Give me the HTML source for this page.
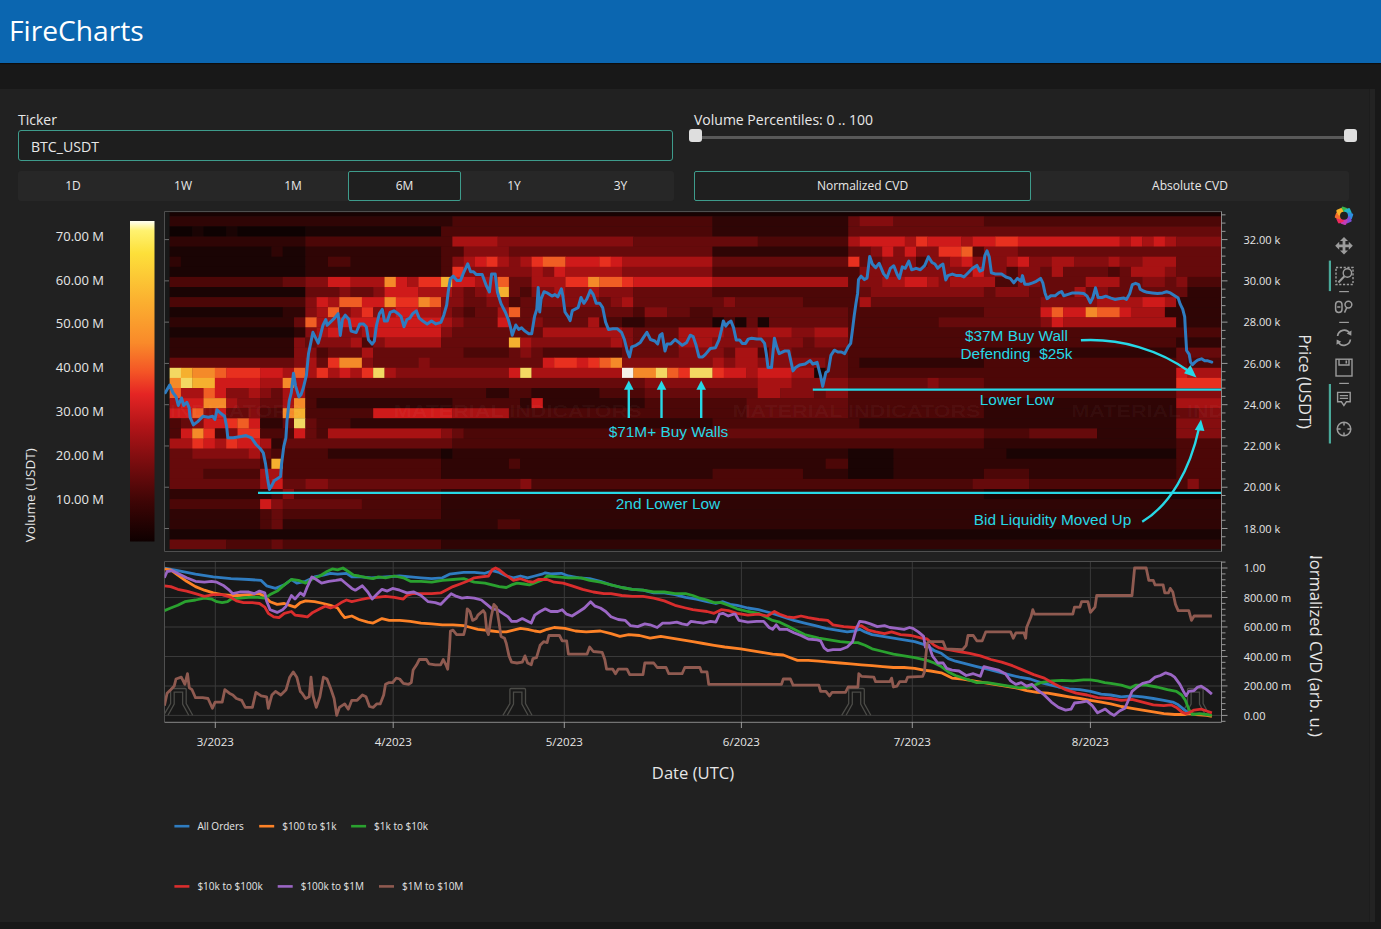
<!DOCTYPE html>
<html><head><meta charset="utf-8"><title>FireCharts</title>
<style>
*{box-sizing:border-box;margin:0;padding:0}
html,body{width:1381px;height:929px;overflow:hidden;background:#181818;font-family:"Open Sans","Liberation Sans",sans-serif;color:#e8e8e8}
#hdr{position:absolute;left:0;top:0;width:1381px;height:63px;background:#0b66b0;box-shadow:0 1px 1px rgba(0,0,0,0.45)}
#hdr span{position:absolute;left:9px;top:11.4px;font-size:28.2px;line-height:38px;color:#fff}
#panel{position:absolute;left:0;top:89px;width:1375px;height:833px;background:#212121}
#edge{position:absolute;left:1369px;top:89px;width:6px;height:833px;background:#232323;border-left:1px solid #1d1d1d}
.lbl{position:absolute;font-size:14px;line-height:19px;color:#e8e8e8}
#tick{position:absolute;left:18px;top:130px;width:655px;height:31px;border:1px solid #3e9c8c;border-radius:3px;background:#1e1e1e}
#tick span{position:absolute;left:12px;top:5.5px;font-size:14.1px;line-height:19px;color:#e8e8e8}
.row{position:absolute;background:#272727;border-radius:3px}
.btn{position:absolute;top:0;height:30px;font-size:12px;color:#e8e8e8;text-align:center;line-height:30px}
.sel{border:1px solid #3e9c8c;background:#1f1f1f;border-radius:2px;line-height:28px}
#track{position:absolute;left:694px;top:135.5px;width:656px;height:3.5px;background:#595959;border-radius:2px}
.hd{position:absolute;top:129px;width:13px;height:13px;background:#dedede;border-radius:3px}
svg{position:absolute;left:0;top:0}
svg text{font-family:"Open Sans","Liberation Sans",sans-serif;fill:#e6e6e6}
.tk{font-size:11px}
.cbt{font-size:13px;text-anchor:end}
.xt{font-size:11.5px;text-anchor:middle}
.ttl{font-size:16.6px}
.lg{font-size:10px}
.an text{font-family:"Liberation Sans",Arial,sans-serif;font-size:15.4px;fill:#27d8e6;text-anchor:middle}
</style></head><body>
<div id="hdr"><span>FireCharts</span></div>
<div id="panel"></div><div id="edge"></div>
<div class="lbl" style="left:18px;top:110px">Ticker</div>
<div id="tick"><span>BTC_USDT</span></div>
<div class="row" style="left:18px;top:171px;width:656px;height:30px">
<div class="btn" style="left:0;width:110px">1D</div>
<div class="btn" style="left:110px;width:110px">1W</div>
<div class="btn" style="left:220px;width:110px">1M</div>
<div class="btn sel" style="left:330px;width:113px">6M</div>
<div class="btn" style="left:443px;width:106px">1Y</div>
<div class="btn" style="left:549px;width:107px">3Y</div>
</div>
<div class="lbl" style="left:694px;top:110px">Volume Percentiles: 0 .. 100</div>
<div id="track"></div>
<div class="hd" style="left:689px"></div>
<div class="hd" style="left:1344px"></div>
<div class="row" style="left:694px;top:171px;width:655px;height:30px">
<div class="btn sel" style="left:0;width:337px">Normalized CVD</div>
<div class="btn" style="left:337px;width:318px">Absolute CVD</div>
</div>
<svg width="1381" height="929" viewBox="0 0 1381 929">
<defs><clipPath id="hclip"><rect x="164.5" y="211.5" width="1057" height="340"/></clipPath><clipPath id="cclip"><rect x="164.5" y="561.5" width="1057" height="161"/></clipPath><clipPath id="tclip"><rect x="1290" y="556" width="50" height="200"/></clipPath><linearGradient id="cb" x1="0" y1="0" x2="0" y2="1"><stop offset="0" stop-color="#fffff4"/><stop offset="0.03" stop-color="#fff270"/><stop offset="0.10" stop-color="#fde03a"/><stop offset="0.25" stop-color="#fbb030"/><stop offset="0.38" stop-color="#f98a2a"/><stop offset="0.47" stop-color="#f45526"/><stop offset="0.54" stop-color="#e52524"/><stop offset="0.64" stop-color="#b21418"/><stop offset="0.76" stop-color="#760c0e"/><stop offset="0.88" stop-color="#3c0505"/><stop offset="1" stop-color="#0e0000"/></linearGradient></defs>
<rect x="164.5" y="211.5" width="1057" height="340" fill="#181818"/>
<g clip-path="url(#hclip)">
<rect x="169.6" y="212.4" width="1051.7" height="3.9" fill="#180202"/>
<rect x="169.6" y="216.3" width="283.05" height="10.4" fill="#2f0505"/>
<rect x="452.35" y="216.3" width="260.43" height="10.4" fill="#4c0707"/>
<rect x="712.48" y="216.3" width="136.02" height="10.4" fill="#2f0505"/>
<rect x="848.2" y="216.3" width="11.61" height="10.4" fill="#660a0b"/>
<rect x="859.51" y="216.3" width="34.23" height="10.4" fill="#850d0f"/>
<rect x="893.44" y="216.3" width="90.78" height="10.4" fill="#660a0b"/>
<rect x="983.92" y="216.3" width="237.68" height="10.4" fill="#4c0707"/>
<rect x="169.6" y="226.4" width="22.92" height="10.4" fill="#0e0202"/>
<rect x="192.22" y="226.4" width="11.61" height="10.4" fill="#1a0404"/>
<rect x="203.53" y="226.4" width="22.92" height="10.4" fill="#0e0202"/>
<rect x="226.15" y="226.4" width="11.61" height="10.4" fill="#1a0404"/>
<rect x="237.46" y="226.4" width="68.16" height="10.4" fill="#0e0202"/>
<rect x="305.32" y="226.4" width="136.02" height="10.4" fill="#1a0404"/>
<rect x="441.04" y="226.4" width="271.74" height="10.4" fill="#4c0707"/>
<rect x="712.48" y="226.4" width="136.02" height="10.4" fill="#2f0505"/>
<rect x="848.2" y="226.4" width="373.4" height="10.4" fill="#660a0b"/>
<rect x="169.6" y="236.5" width="136.02" height="10.4" fill="#2f0505"/>
<rect x="305.32" y="236.5" width="147.33" height="10.4" fill="#4c0707"/>
<rect x="452.35" y="236.5" width="45.54" height="10.4" fill="#a81213"/>
<rect x="497.59" y="236.5" width="136.02" height="10.4" fill="#850d0f"/>
<rect x="633.31" y="236.5" width="124.71" height="10.4" fill="#660a0b"/>
<rect x="757.72" y="236.5" width="90.78" height="10.4" fill="#4c0707"/>
<rect x="848.2" y="236.5" width="11.61" height="10.4" fill="#a81213"/>
<rect x="859.51" y="236.5" width="45.54" height="10.4" fill="#cf1a1a"/>
<rect x="904.75" y="236.5" width="11.61" height="10.4" fill="#a81213"/>
<rect x="916.06" y="236.5" width="11.61" height="10.4" fill="#e8301f"/>
<rect x="927.37" y="236.5" width="34.23" height="10.4" fill="#cf1a1a"/>
<rect x="961.3" y="236.5" width="11.61" height="10.4" fill="#a81213"/>
<rect x="972.61" y="236.5" width="22.92" height="10.4" fill="#cf1a1a"/>
<rect x="995.23" y="236.5" width="22.92" height="10.4" fill="#e8301f"/>
<rect x="1017.85" y="236.5" width="102.09" height="10.4" fill="#cf1a1a"/>
<rect x="1119.64" y="236.5" width="11.61" height="10.4" fill="#a81213"/>
<rect x="1130.95" y="236.5" width="11.61" height="10.4" fill="#cf1a1a"/>
<rect x="1142.26" y="236.5" width="11.61" height="10.4" fill="#a81213"/>
<rect x="1153.57" y="236.5" width="11.61" height="10.4" fill="#cf1a1a"/>
<rect x="1164.88" y="236.5" width="11.61" height="10.4" fill="#a81213"/>
<rect x="1176.19" y="236.5" width="45.41" height="10.4" fill="#850d0f"/>
<rect x="169.6" y="246.6" width="102.09" height="10.4" fill="#1a0404"/>
<rect x="271.39" y="246.6" width="11.61" height="10.4" fill="#2f0505"/>
<rect x="282.7" y="246.6" width="22.92" height="10.4" fill="#1a0404"/>
<rect x="305.32" y="246.6" width="136.02" height="10.4" fill="#2f0505"/>
<rect x="441.04" y="246.6" width="22.92" height="10.4" fill="#4c0707"/>
<rect x="463.66" y="246.6" width="45.54" height="10.4" fill="#850d0f"/>
<rect x="508.9" y="246.6" width="203.88" height="10.4" fill="#660a0b"/>
<rect x="712.48" y="246.6" width="136.02" height="10.4" fill="#2f0505"/>
<rect x="848.2" y="246.6" width="22.92" height="10.4" fill="#660a0b"/>
<rect x="870.82" y="246.6" width="11.61" height="10.4" fill="#850d0f"/>
<rect x="882.13" y="246.6" width="11.61" height="10.4" fill="#cf1a1a"/>
<rect x="893.44" y="246.6" width="11.61" height="10.4" fill="#850d0f"/>
<rect x="904.75" y="246.6" width="11.61" height="10.4" fill="#cf1a1a"/>
<rect x="916.06" y="246.6" width="22.92" height="10.4" fill="#850d0f"/>
<rect x="938.68" y="246.6" width="22.92" height="10.4" fill="#e8301f"/>
<rect x="961.3" y="246.6" width="11.61" height="10.4" fill="#f05e24"/>
<rect x="972.61" y="246.6" width="11.61" height="10.4" fill="#4c0707"/>
<rect x="983.92" y="246.6" width="34.23" height="10.4" fill="#850d0f"/>
<rect x="1017.85" y="246.6" width="203.75" height="10.4" fill="#660a0b"/>
<rect x="169.6" y="256.7" width="11.61" height="10.4" fill="#2f0505"/>
<rect x="180.91" y="256.7" width="124.71" height="10.4" fill="#1a0404"/>
<rect x="305.32" y="256.7" width="22.92" height="10.4" fill="#2f0505"/>
<rect x="327.94" y="256.7" width="22.92" height="10.4" fill="#4c0707"/>
<rect x="350.56" y="256.7" width="90.78" height="10.4" fill="#2f0505"/>
<rect x="441.04" y="256.7" width="11.61" height="10.4" fill="#4c0707"/>
<rect x="452.35" y="256.7" width="11.61" height="10.4" fill="#850d0f"/>
<rect x="463.66" y="256.7" width="11.61" height="10.4" fill="#a81213"/>
<rect x="474.97" y="256.7" width="11.61" height="10.4" fill="#cf1a1a"/>
<rect x="486.28" y="256.7" width="11.61" height="10.4" fill="#e8301f"/>
<rect x="497.59" y="256.7" width="11.61" height="10.4" fill="#a81213"/>
<rect x="508.9" y="256.7" width="11.61" height="10.4" fill="#850d0f"/>
<rect x="520.21" y="256.7" width="11.61" height="10.4" fill="#a81213"/>
<rect x="531.52" y="256.7" width="11.61" height="10.4" fill="#e8301f"/>
<rect x="542.83" y="256.7" width="22.92" height="10.4" fill="#f05e24"/>
<rect x="565.45" y="256.7" width="34.23" height="10.4" fill="#cf1a1a"/>
<rect x="599.38" y="256.7" width="11.61" height="10.4" fill="#e8301f"/>
<rect x="610.69" y="256.7" width="11.61" height="10.4" fill="#cf1a1a"/>
<rect x="622" y="256.7" width="90.78" height="10.4" fill="#a81213"/>
<rect x="712.48" y="256.7" width="136.02" height="10.4" fill="#660a0b"/>
<rect x="848.2" y="256.7" width="11.61" height="10.4" fill="#e8301f"/>
<rect x="859.51" y="256.7" width="22.92" height="10.4" fill="#660a0b"/>
<rect x="882.13" y="256.7" width="34.23" height="10.4" fill="#850d0f"/>
<rect x="916.06" y="256.7" width="11.61" height="10.4" fill="#4c0707"/>
<rect x="927.37" y="256.7" width="22.92" height="10.4" fill="#850d0f"/>
<rect x="949.99" y="256.7" width="11.61" height="10.4" fill="#a81213"/>
<rect x="961.3" y="256.7" width="11.61" height="10.4" fill="#cf1a1a"/>
<rect x="972.61" y="256.7" width="34.23" height="10.4" fill="#850d0f"/>
<rect x="1006.54" y="256.7" width="11.61" height="10.4" fill="#a81213"/>
<rect x="1017.85" y="256.7" width="11.61" height="10.4" fill="#cf1a1a"/>
<rect x="1029.16" y="256.7" width="22.92" height="10.4" fill="#850d0f"/>
<rect x="1051.78" y="256.7" width="22.92" height="10.4" fill="#a81213"/>
<rect x="1074.4" y="256.7" width="34.23" height="10.4" fill="#850d0f"/>
<rect x="1108.33" y="256.7" width="11.61" height="10.4" fill="#a81213"/>
<rect x="1119.64" y="256.7" width="22.92" height="10.4" fill="#850d0f"/>
<rect x="1142.26" y="256.7" width="34.23" height="10.4" fill="#a81213"/>
<rect x="1176.19" y="256.7" width="45.41" height="10.4" fill="#660a0b"/>
<rect x="169.6" y="266.8" width="136.02" height="10.4" fill="#1a0404"/>
<rect x="305.32" y="266.8" width="136.02" height="10.4" fill="#2f0505"/>
<rect x="441.04" y="266.8" width="11.61" height="10.4" fill="#4c0707"/>
<rect x="452.35" y="266.8" width="11.61" height="10.4" fill="#e8301f"/>
<rect x="463.66" y="266.8" width="68.16" height="10.4" fill="#850d0f"/>
<rect x="531.52" y="266.8" width="11.61" height="10.4" fill="#a81213"/>
<rect x="542.83" y="266.8" width="11.61" height="10.4" fill="#850d0f"/>
<rect x="554.14" y="266.8" width="11.61" height="10.4" fill="#cf1a1a"/>
<rect x="565.45" y="266.8" width="56.85" height="10.4" fill="#a81213"/>
<rect x="622" y="266.8" width="90.78" height="10.4" fill="#850d0f"/>
<rect x="712.48" y="266.8" width="147.33" height="10.4" fill="#4c0707"/>
<rect x="859.51" y="266.8" width="113.4" height="10.4" fill="#850d0f"/>
<rect x="972.61" y="266.8" width="11.61" height="10.4" fill="#cf1a1a"/>
<rect x="983.92" y="266.8" width="22.92" height="10.4" fill="#850d0f"/>
<rect x="1006.54" y="266.8" width="11.61" height="10.4" fill="#4c0707"/>
<rect x="1017.85" y="266.8" width="22.92" height="10.4" fill="#850d0f"/>
<rect x="1040.47" y="266.8" width="11.61" height="10.4" fill="#660a0b"/>
<rect x="1051.78" y="266.8" width="11.61" height="10.4" fill="#a81213"/>
<rect x="1063.09" y="266.8" width="45.54" height="10.4" fill="#660a0b"/>
<rect x="1108.33" y="266.8" width="11.61" height="10.4" fill="#4c0707"/>
<rect x="1119.64" y="266.8" width="11.61" height="10.4" fill="#660a0b"/>
<rect x="1130.95" y="266.8" width="34.23" height="10.4" fill="#a81213"/>
<rect x="1164.88" y="266.8" width="11.61" height="10.4" fill="#850d0f"/>
<rect x="1176.19" y="266.8" width="45.41" height="10.4" fill="#660a0b"/>
<rect x="169.6" y="276.9" width="113.4" height="10.4" fill="#4c0707"/>
<rect x="282.7" y="276.9" width="22.92" height="10.4" fill="#660a0b"/>
<rect x="305.32" y="276.9" width="22.92" height="10.4" fill="#850d0f"/>
<rect x="327.94" y="276.9" width="22.92" height="10.4" fill="#cf1a1a"/>
<rect x="350.56" y="276.9" width="34.23" height="10.4" fill="#a81213"/>
<rect x="384.49" y="276.9" width="11.61" height="10.4" fill="#f48a29"/>
<rect x="395.8" y="276.9" width="11.61" height="10.4" fill="#cf1a1a"/>
<rect x="407.11" y="276.9" width="11.61" height="10.4" fill="#a81213"/>
<rect x="418.42" y="276.9" width="22.92" height="10.4" fill="#e8301f"/>
<rect x="441.04" y="276.9" width="11.61" height="10.4" fill="#f5b02f"/>
<rect x="452.35" y="276.9" width="22.92" height="10.4" fill="#cf1a1a"/>
<rect x="474.97" y="276.9" width="22.92" height="10.4" fill="#a81213"/>
<rect x="497.59" y="276.9" width="11.61" height="10.4" fill="#f05e24"/>
<rect x="508.9" y="276.9" width="22.92" height="10.4" fill="#660a0b"/>
<rect x="531.52" y="276.9" width="34.23" height="10.4" fill="#a81213"/>
<rect x="565.45" y="276.9" width="22.92" height="10.4" fill="#e8301f"/>
<rect x="588.07" y="276.9" width="11.61" height="10.4" fill="#f48a29"/>
<rect x="599.38" y="276.9" width="22.92" height="10.4" fill="#f05e24"/>
<rect x="622" y="276.9" width="11.61" height="10.4" fill="#e8301f"/>
<rect x="633.31" y="276.9" width="79.47" height="10.4" fill="#cf1a1a"/>
<rect x="712.48" y="276.9" width="136.02" height="10.4" fill="#a81213"/>
<rect x="848.2" y="276.9" width="11.61" height="10.4" fill="#4c0707"/>
<rect x="859.51" y="276.9" width="22.92" height="10.4" fill="#850d0f"/>
<rect x="882.13" y="276.9" width="22.92" height="10.4" fill="#a81213"/>
<rect x="904.75" y="276.9" width="22.92" height="10.4" fill="#cf1a1a"/>
<rect x="927.37" y="276.9" width="11.61" height="10.4" fill="#a81213"/>
<rect x="938.68" y="276.9" width="11.61" height="10.4" fill="#850d0f"/>
<rect x="949.99" y="276.9" width="45.54" height="10.4" fill="#a81213"/>
<rect x="995.23" y="276.9" width="22.92" height="10.4" fill="#4c0707"/>
<rect x="1017.85" y="276.9" width="22.92" height="10.4" fill="#850d0f"/>
<rect x="1040.47" y="276.9" width="45.54" height="10.4" fill="#660a0b"/>
<rect x="1085.71" y="276.9" width="34.23" height="10.4" fill="#a81213"/>
<rect x="1119.64" y="276.9" width="22.92" height="10.4" fill="#660a0b"/>
<rect x="1142.26" y="276.9" width="22.92" height="10.4" fill="#850d0f"/>
<rect x="1164.88" y="276.9" width="11.61" height="10.4" fill="#660a0b"/>
<rect x="1176.19" y="276.9" width="11.61" height="10.4" fill="#850d0f"/>
<rect x="1187.5" y="276.9" width="34.1" height="10.4" fill="#4c0707"/>
<rect x="169.6" y="287" width="136.02" height="10.4" fill="#1a0404"/>
<rect x="305.32" y="287" width="34.23" height="10.4" fill="#660a0b"/>
<rect x="339.25" y="287" width="11.61" height="10.4" fill="#850d0f"/>
<rect x="350.56" y="287" width="22.92" height="10.4" fill="#660a0b"/>
<rect x="373.18" y="287" width="11.61" height="10.4" fill="#850d0f"/>
<rect x="384.49" y="287" width="34.23" height="10.4" fill="#cf1a1a"/>
<rect x="418.42" y="287" width="34.23" height="10.4" fill="#a81213"/>
<rect x="452.35" y="287" width="11.61" height="10.4" fill="#850d0f"/>
<rect x="463.66" y="287" width="11.61" height="10.4" fill="#660a0b"/>
<rect x="474.97" y="287" width="11.61" height="10.4" fill="#850d0f"/>
<rect x="486.28" y="287" width="11.61" height="10.4" fill="#a81213"/>
<rect x="497.59" y="287" width="11.61" height="10.4" fill="#f5b02f"/>
<rect x="508.9" y="287" width="11.61" height="10.4" fill="#660a0b"/>
<rect x="520.21" y="287" width="11.61" height="10.4" fill="#4c0707"/>
<rect x="531.52" y="287" width="22.92" height="10.4" fill="#850d0f"/>
<rect x="554.14" y="287" width="11.61" height="10.4" fill="#a81213"/>
<rect x="565.45" y="287" width="22.92" height="10.4" fill="#850d0f"/>
<rect x="588.07" y="287" width="11.61" height="10.4" fill="#a81213"/>
<rect x="599.38" y="287" width="34.23" height="10.4" fill="#850d0f"/>
<rect x="633.31" y="287" width="79.47" height="10.4" fill="#660a0b"/>
<rect x="712.48" y="287" width="147.33" height="10.4" fill="#4c0707"/>
<rect x="859.51" y="287" width="11.61" height="10.4" fill="#660a0b"/>
<rect x="870.82" y="287" width="113.4" height="10.4" fill="#850d0f"/>
<rect x="983.92" y="287" width="11.61" height="10.4" fill="#660a0b"/>
<rect x="995.23" y="287" width="34.23" height="10.4" fill="#850d0f"/>
<rect x="1029.16" y="287" width="45.54" height="10.4" fill="#660a0b"/>
<rect x="1074.4" y="287" width="11.61" height="10.4" fill="#a81213"/>
<rect x="1085.71" y="287" width="11.61" height="10.4" fill="#660a0b"/>
<rect x="1097.02" y="287" width="11.61" height="10.4" fill="#850d0f"/>
<rect x="1108.33" y="287" width="79.47" height="10.4" fill="#660a0b"/>
<rect x="1187.5" y="287" width="34.1" height="10.4" fill="#2f0505"/>
<rect x="169.6" y="297.1" width="136.02" height="10.4" fill="#4c0707"/>
<rect x="305.32" y="297.1" width="11.61" height="10.4" fill="#850d0f"/>
<rect x="316.63" y="297.1" width="11.61" height="10.4" fill="#cf1a1a"/>
<rect x="327.94" y="297.1" width="11.61" height="10.4" fill="#a81213"/>
<rect x="339.25" y="297.1" width="22.92" height="10.4" fill="#f05e24"/>
<rect x="361.87" y="297.1" width="22.92" height="10.4" fill="#cf1a1a"/>
<rect x="384.49" y="297.1" width="11.61" height="10.4" fill="#f48a29"/>
<rect x="395.8" y="297.1" width="22.92" height="10.4" fill="#e8301f"/>
<rect x="418.42" y="297.1" width="11.61" height="10.4" fill="#f48a29"/>
<rect x="429.73" y="297.1" width="11.61" height="10.4" fill="#f05e24"/>
<rect x="441.04" y="297.1" width="22.92" height="10.4" fill="#850d0f"/>
<rect x="463.66" y="297.1" width="22.92" height="10.4" fill="#660a0b"/>
<rect x="486.28" y="297.1" width="22.92" height="10.4" fill="#850d0f"/>
<rect x="508.9" y="297.1" width="11.61" height="10.4" fill="#4c0707"/>
<rect x="520.21" y="297.1" width="22.92" height="10.4" fill="#660a0b"/>
<rect x="542.83" y="297.1" width="56.85" height="10.4" fill="#850d0f"/>
<rect x="599.38" y="297.1" width="11.61" height="10.4" fill="#660a0b"/>
<rect x="610.69" y="297.1" width="11.61" height="10.4" fill="#850d0f"/>
<rect x="622" y="297.1" width="11.61" height="10.4" fill="#a81213"/>
<rect x="633.31" y="297.1" width="90.78" height="10.4" fill="#660a0b"/>
<rect x="723.79" y="297.1" width="11.61" height="10.4" fill="#850d0f"/>
<rect x="735.1" y="297.1" width="68.16" height="10.4" fill="#660a0b"/>
<rect x="802.96" y="297.1" width="56.85" height="10.4" fill="#4c0707"/>
<rect x="859.51" y="297.1" width="11.61" height="10.4" fill="#a81213"/>
<rect x="870.82" y="297.1" width="169.95" height="10.4" fill="#660a0b"/>
<rect x="1040.47" y="297.1" width="56.85" height="10.4" fill="#850d0f"/>
<rect x="1097.02" y="297.1" width="45.54" height="10.4" fill="#a81213"/>
<rect x="1142.26" y="297.1" width="22.92" height="10.4" fill="#cf1a1a"/>
<rect x="1164.88" y="297.1" width="11.61" height="10.4" fill="#a81213"/>
<rect x="1176.19" y="297.1" width="45.41" height="10.4" fill="#2f0505"/>
<rect x="169.6" y="307.2" width="113.4" height="10.4" fill="#1a0404"/>
<rect x="282.7" y="307.2" width="22.92" height="10.4" fill="#2f0505"/>
<rect x="305.32" y="307.2" width="11.61" height="10.4" fill="#850d0f"/>
<rect x="316.63" y="307.2" width="11.61" height="10.4" fill="#a81213"/>
<rect x="327.94" y="307.2" width="11.61" height="10.4" fill="#f05e24"/>
<rect x="339.25" y="307.2" width="11.61" height="10.4" fill="#850d0f"/>
<rect x="350.56" y="307.2" width="11.61" height="10.4" fill="#a81213"/>
<rect x="361.87" y="307.2" width="11.61" height="10.4" fill="#e8301f"/>
<rect x="373.18" y="307.2" width="11.61" height="10.4" fill="#850d0f"/>
<rect x="384.49" y="307.2" width="11.61" height="10.4" fill="#a81213"/>
<rect x="395.8" y="307.2" width="22.92" height="10.4" fill="#cf1a1a"/>
<rect x="418.42" y="307.2" width="22.92" height="10.4" fill="#a81213"/>
<rect x="441.04" y="307.2" width="11.61" height="10.4" fill="#850d0f"/>
<rect x="452.35" y="307.2" width="11.61" height="10.4" fill="#660a0b"/>
<rect x="463.66" y="307.2" width="11.61" height="10.4" fill="#4c0707"/>
<rect x="474.97" y="307.2" width="22.92" height="10.4" fill="#660a0b"/>
<rect x="497.59" y="307.2" width="11.61" height="10.4" fill="#a81213"/>
<rect x="508.9" y="307.2" width="11.61" height="10.4" fill="#f05e24"/>
<rect x="520.21" y="307.2" width="113.4" height="10.4" fill="#660a0b"/>
<rect x="633.31" y="307.2" width="11.61" height="10.4" fill="#4c0707"/>
<rect x="644.62" y="307.2" width="22.92" height="10.4" fill="#850d0f"/>
<rect x="667.24" y="307.2" width="22.92" height="10.4" fill="#660a0b"/>
<rect x="689.86" y="307.2" width="22.92" height="10.4" fill="#4c0707"/>
<rect x="712.48" y="307.2" width="136.02" height="10.4" fill="#660a0b"/>
<rect x="848.2" y="307.2" width="136.02" height="10.4" fill="#4c0707"/>
<rect x="983.92" y="307.2" width="56.85" height="10.4" fill="#660a0b"/>
<rect x="1040.47" y="307.2" width="11.61" height="10.4" fill="#cf1a1a"/>
<rect x="1051.78" y="307.2" width="11.61" height="10.4" fill="#f05e24"/>
<rect x="1063.09" y="307.2" width="22.92" height="10.4" fill="#cf1a1a"/>
<rect x="1085.71" y="307.2" width="11.61" height="10.4" fill="#f48a29"/>
<rect x="1097.02" y="307.2" width="22.92" height="10.4" fill="#f05e24"/>
<rect x="1119.64" y="307.2" width="11.61" height="10.4" fill="#cf1a1a"/>
<rect x="1130.95" y="307.2" width="34.23" height="10.4" fill="#a81213"/>
<rect x="1164.88" y="307.2" width="56.72" height="10.4" fill="#2f0505"/>
<rect x="169.6" y="317.3" width="124.71" height="10.4" fill="#2f0505"/>
<rect x="294.01" y="317.3" width="11.61" height="10.4" fill="#660a0b"/>
<rect x="305.32" y="317.3" width="11.61" height="10.4" fill="#f05e24"/>
<rect x="316.63" y="317.3" width="22.92" height="10.4" fill="#a81213"/>
<rect x="339.25" y="317.3" width="102.09" height="10.4" fill="#cf1a1a"/>
<rect x="441.04" y="317.3" width="11.61" height="10.4" fill="#a81213"/>
<rect x="452.35" y="317.3" width="11.61" height="10.4" fill="#850d0f"/>
<rect x="463.66" y="317.3" width="34.23" height="10.4" fill="#660a0b"/>
<rect x="497.59" y="317.3" width="11.61" height="10.4" fill="#cf1a1a"/>
<rect x="508.9" y="317.3" width="22.92" height="10.4" fill="#660a0b"/>
<rect x="531.52" y="317.3" width="11.61" height="10.4" fill="#850d0f"/>
<rect x="542.83" y="317.3" width="45.54" height="10.4" fill="#660a0b"/>
<rect x="588.07" y="317.3" width="11.61" height="10.4" fill="#a81213"/>
<rect x="599.38" y="317.3" width="22.92" height="10.4" fill="#4c0707"/>
<rect x="622" y="317.3" width="22.92" height="10.4" fill="#2f0505"/>
<rect x="644.62" y="317.3" width="68.16" height="10.4" fill="#4c0707"/>
<rect x="712.48" y="317.3" width="11.61" height="10.4" fill="#1a0404"/>
<rect x="723.79" y="317.3" width="11.61" height="10.4" fill="#4c0707"/>
<rect x="735.1" y="317.3" width="11.61" height="10.4" fill="#1a0404"/>
<rect x="746.41" y="317.3" width="11.61" height="10.4" fill="#660a0b"/>
<rect x="757.72" y="317.3" width="11.61" height="10.4" fill="#1a0404"/>
<rect x="769.03" y="317.3" width="79.47" height="10.4" fill="#660a0b"/>
<rect x="848.2" y="317.3" width="90.78" height="10.4" fill="#4c0707"/>
<rect x="938.68" y="317.3" width="102.09" height="10.4" fill="#660a0b"/>
<rect x="1040.47" y="317.3" width="11.61" height="10.4" fill="#850d0f"/>
<rect x="1051.78" y="317.3" width="11.61" height="10.4" fill="#cf1a1a"/>
<rect x="1063.09" y="317.3" width="113.4" height="10.4" fill="#a81213"/>
<rect x="1176.19" y="317.3" width="45.41" height="10.4" fill="#2f0505"/>
<rect x="169.6" y="327.4" width="124.71" height="10.4" fill="#1a0404"/>
<rect x="294.01" y="327.4" width="11.61" height="10.4" fill="#2f0505"/>
<rect x="305.32" y="327.4" width="11.61" height="10.4" fill="#850d0f"/>
<rect x="316.63" y="327.4" width="11.61" height="10.4" fill="#a81213"/>
<rect x="327.94" y="327.4" width="11.61" height="10.4" fill="#cf1a1a"/>
<rect x="339.25" y="327.4" width="22.92" height="10.4" fill="#850d0f"/>
<rect x="361.87" y="327.4" width="11.61" height="10.4" fill="#a81213"/>
<rect x="373.18" y="327.4" width="68.16" height="10.4" fill="#cf1a1a"/>
<rect x="441.04" y="327.4" width="11.61" height="10.4" fill="#850d0f"/>
<rect x="452.35" y="327.4" width="90.78" height="10.4" fill="#660a0b"/>
<rect x="542.83" y="327.4" width="79.47" height="10.4" fill="#a81213"/>
<rect x="622" y="327.4" width="11.61" height="10.4" fill="#850d0f"/>
<rect x="633.31" y="327.4" width="45.54" height="10.4" fill="#660a0b"/>
<rect x="678.55" y="327.4" width="45.54" height="10.4" fill="#a81213"/>
<rect x="723.79" y="327.4" width="34.23" height="10.4" fill="#850d0f"/>
<rect x="757.72" y="327.4" width="34.23" height="10.4" fill="#a81213"/>
<rect x="791.65" y="327.4" width="22.92" height="10.4" fill="#850d0f"/>
<rect x="814.27" y="327.4" width="34.23" height="10.4" fill="#a81213"/>
<rect x="848.2" y="327.4" width="373.4" height="10.4" fill="#4c0707"/>
<rect x="169.6" y="337.5" width="124.71" height="10.4" fill="#2f0505"/>
<rect x="294.01" y="337.5" width="11.61" height="10.4" fill="#850d0f"/>
<rect x="305.32" y="337.5" width="11.61" height="10.4" fill="#660a0b"/>
<rect x="316.63" y="337.5" width="34.23" height="10.4" fill="#850d0f"/>
<rect x="350.56" y="337.5" width="11.61" height="10.4" fill="#a81213"/>
<rect x="361.87" y="337.5" width="11.61" height="10.4" fill="#4c0707"/>
<rect x="373.18" y="337.5" width="11.61" height="10.4" fill="#850d0f"/>
<rect x="384.49" y="337.5" width="56.85" height="10.4" fill="#a81213"/>
<rect x="441.04" y="337.5" width="68.16" height="10.4" fill="#660a0b"/>
<rect x="508.9" y="337.5" width="11.61" height="10.4" fill="#f5b02f"/>
<rect x="520.21" y="337.5" width="11.61" height="10.4" fill="#a81213"/>
<rect x="531.52" y="337.5" width="79.47" height="10.4" fill="#850d0f"/>
<rect x="610.69" y="337.5" width="11.61" height="10.4" fill="#a81213"/>
<rect x="622" y="337.5" width="11.61" height="10.4" fill="#850d0f"/>
<rect x="633.31" y="337.5" width="45.54" height="10.4" fill="#660a0b"/>
<rect x="678.55" y="337.5" width="34.23" height="10.4" fill="#a81213"/>
<rect x="712.48" y="337.5" width="90.78" height="10.4" fill="#850d0f"/>
<rect x="802.96" y="337.5" width="11.61" height="10.4" fill="#660a0b"/>
<rect x="814.27" y="337.5" width="34.23" height="10.4" fill="#850d0f"/>
<rect x="848.2" y="337.5" width="328.29" height="10.4" fill="#4c0707"/>
<rect x="1176.19" y="337.5" width="45.41" height="10.4" fill="#2f0505"/>
<rect x="169.6" y="347.6" width="124.71" height="10.4" fill="#2f0505"/>
<rect x="294.01" y="347.6" width="22.92" height="10.4" fill="#850d0f"/>
<rect x="316.63" y="347.6" width="11.61" height="10.4" fill="#4c0707"/>
<rect x="327.94" y="347.6" width="34.23" height="10.4" fill="#660a0b"/>
<rect x="361.87" y="347.6" width="11.61" height="10.4" fill="#a81213"/>
<rect x="373.18" y="347.6" width="90.78" height="10.4" fill="#660a0b"/>
<rect x="463.66" y="347.6" width="45.54" height="10.4" fill="#4c0707"/>
<rect x="508.9" y="347.6" width="11.61" height="10.4" fill="#660a0b"/>
<rect x="520.21" y="347.6" width="11.61" height="10.4" fill="#850d0f"/>
<rect x="531.52" y="347.6" width="11.61" height="10.4" fill="#660a0b"/>
<rect x="542.83" y="347.6" width="79.47" height="10.4" fill="#4c0707"/>
<rect x="622" y="347.6" width="56.85" height="10.4" fill="#660a0b"/>
<rect x="678.55" y="347.6" width="45.54" height="10.4" fill="#850d0f"/>
<rect x="723.79" y="347.6" width="11.61" height="10.4" fill="#660a0b"/>
<rect x="735.1" y="347.6" width="22.92" height="10.4" fill="#a81213"/>
<rect x="757.72" y="347.6" width="11.61" height="10.4" fill="#4c0707"/>
<rect x="769.03" y="347.6" width="22.92" height="10.4" fill="#850d0f"/>
<rect x="791.65" y="347.6" width="56.85" height="10.4" fill="#660a0b"/>
<rect x="848.2" y="347.6" width="136.02" height="10.4" fill="#4c0707"/>
<rect x="983.92" y="347.6" width="192.57" height="10.4" fill="#2f0505"/>
<rect x="1176.19" y="347.6" width="45.41" height="10.4" fill="#660a0b"/>
<rect x="169.6" y="357.7" width="124.71" height="10.4" fill="#660a0b"/>
<rect x="294.01" y="357.7" width="11.61" height="10.4" fill="#850d0f"/>
<rect x="305.32" y="357.7" width="11.61" height="10.4" fill="#a81213"/>
<rect x="316.63" y="357.7" width="11.61" height="10.4" fill="#660a0b"/>
<rect x="327.94" y="357.7" width="11.61" height="10.4" fill="#e8301f"/>
<rect x="339.25" y="357.7" width="22.92" height="10.4" fill="#f48a29"/>
<rect x="361.87" y="357.7" width="11.61" height="10.4" fill="#850d0f"/>
<rect x="373.18" y="357.7" width="45.54" height="10.4" fill="#660a0b"/>
<rect x="418.42" y="357.7" width="11.61" height="10.4" fill="#850d0f"/>
<rect x="429.73" y="357.7" width="113.4" height="10.4" fill="#660a0b"/>
<rect x="542.83" y="357.7" width="11.61" height="10.4" fill="#cf1a1a"/>
<rect x="554.14" y="357.7" width="22.92" height="10.4" fill="#e8301f"/>
<rect x="576.76" y="357.7" width="11.61" height="10.4" fill="#cf1a1a"/>
<rect x="588.07" y="357.7" width="11.61" height="10.4" fill="#e8301f"/>
<rect x="599.38" y="357.7" width="11.61" height="10.4" fill="#f05e24"/>
<rect x="610.69" y="357.7" width="11.61" height="10.4" fill="#f48a29"/>
<rect x="622" y="357.7" width="90.78" height="10.4" fill="#850d0f"/>
<rect x="712.48" y="357.7" width="11.61" height="10.4" fill="#a81213"/>
<rect x="723.79" y="357.7" width="11.61" height="10.4" fill="#850d0f"/>
<rect x="735.1" y="357.7" width="22.92" height="10.4" fill="#a81213"/>
<rect x="757.72" y="357.7" width="68.16" height="10.4" fill="#850d0f"/>
<rect x="825.58" y="357.7" width="22.92" height="10.4" fill="#660a0b"/>
<rect x="848.2" y="357.7" width="11.61" height="10.4" fill="#4c0707"/>
<rect x="859.51" y="357.7" width="124.71" height="10.4" fill="#2f0505"/>
<rect x="983.92" y="357.7" width="192.57" height="10.4" fill="#4c0707"/>
<rect x="1176.19" y="357.7" width="11.61" height="10.4" fill="#660a0b"/>
<rect x="1187.5" y="357.7" width="34.1" height="10.4" fill="#4c0707"/>
<rect x="169.6" y="367.8" width="11.61" height="10.4" fill="#f3d862"/>
<rect x="180.91" y="367.8" width="11.61" height="10.4" fill="#f5b02f"/>
<rect x="192.22" y="367.8" width="22.92" height="10.4" fill="#f48a29"/>
<rect x="214.84" y="367.8" width="11.61" height="10.4" fill="#f05e24"/>
<rect x="226.15" y="367.8" width="34.23" height="10.4" fill="#e8301f"/>
<rect x="260.08" y="367.8" width="22.92" height="10.4" fill="#cf1a1a"/>
<rect x="282.7" y="367.8" width="11.61" height="10.4" fill="#a81213"/>
<rect x="294.01" y="367.8" width="11.61" height="10.4" fill="#f05e24"/>
<rect x="305.32" y="367.8" width="11.61" height="10.4" fill="#a81213"/>
<rect x="316.63" y="367.8" width="11.61" height="10.4" fill="#e8301f"/>
<rect x="327.94" y="367.8" width="11.61" height="10.4" fill="#a81213"/>
<rect x="339.25" y="367.8" width="11.61" height="10.4" fill="#cf1a1a"/>
<rect x="350.56" y="367.8" width="11.61" height="10.4" fill="#a81213"/>
<rect x="361.87" y="367.8" width="11.61" height="10.4" fill="#e8301f"/>
<rect x="373.18" y="367.8" width="11.61" height="10.4" fill="#f3d862"/>
<rect x="384.49" y="367.8" width="11.61" height="10.4" fill="#a81213"/>
<rect x="395.8" y="367.8" width="113.4" height="10.4" fill="#850d0f"/>
<rect x="508.9" y="367.8" width="11.61" height="10.4" fill="#cf1a1a"/>
<rect x="520.21" y="367.8" width="11.61" height="10.4" fill="#f3d862"/>
<rect x="531.52" y="367.8" width="90.78" height="10.4" fill="#a81213"/>
<rect x="622" y="367.8" width="11.61" height="10.4" fill="#f5f0e8"/>
<rect x="633.31" y="367.8" width="22.92" height="10.4" fill="#f48a29"/>
<rect x="655.93" y="367.8" width="11.61" height="10.4" fill="#f3d862"/>
<rect x="667.24" y="367.8" width="11.61" height="10.4" fill="#f05e24"/>
<rect x="678.55" y="367.8" width="11.61" height="10.4" fill="#e8301f"/>
<rect x="689.86" y="367.8" width="22.92" height="10.4" fill="#f3d862"/>
<rect x="712.48" y="367.8" width="11.61" height="10.4" fill="#e8301f"/>
<rect x="723.79" y="367.8" width="22.92" height="10.4" fill="#cf1a1a"/>
<rect x="746.41" y="367.8" width="11.61" height="10.4" fill="#a81213"/>
<rect x="757.72" y="367.8" width="34.23" height="10.4" fill="#cf1a1a"/>
<rect x="791.65" y="367.8" width="22.92" height="10.4" fill="#a81213"/>
<rect x="814.27" y="367.8" width="11.61" height="10.4" fill="#1a0404"/>
<rect x="825.58" y="367.8" width="22.92" height="10.4" fill="#660a0b"/>
<rect x="848.2" y="367.8" width="328.29" height="10.4" fill="#4c0707"/>
<rect x="1176.19" y="367.8" width="11.61" height="10.4" fill="#cf1a1a"/>
<rect x="1187.5" y="367.8" width="34.1" height="10.4" fill="#a81213"/>
<rect x="169.6" y="377.9" width="11.61" height="10.4" fill="#f48a29"/>
<rect x="180.91" y="377.9" width="11.61" height="10.4" fill="#f3d862"/>
<rect x="192.22" y="377.9" width="22.92" height="10.4" fill="#f5b02f"/>
<rect x="214.84" y="377.9" width="45.54" height="10.4" fill="#cf1a1a"/>
<rect x="260.08" y="377.9" width="22.92" height="10.4" fill="#a81213"/>
<rect x="282.7" y="377.9" width="11.61" height="10.4" fill="#f48a29"/>
<rect x="294.01" y="377.9" width="11.61" height="10.4" fill="#a81213"/>
<rect x="305.32" y="377.9" width="339.6" height="10.4" fill="#660a0b"/>
<rect x="644.62" y="377.9" width="113.4" height="10.4" fill="#850d0f"/>
<rect x="757.72" y="377.9" width="34.23" height="10.4" fill="#a81213"/>
<rect x="791.65" y="377.9" width="56.85" height="10.4" fill="#850d0f"/>
<rect x="848.2" y="377.9" width="79.47" height="10.4" fill="#660a0b"/>
<rect x="927.37" y="377.9" width="11.61" height="10.4" fill="#850d0f"/>
<rect x="938.68" y="377.9" width="45.54" height="10.4" fill="#660a0b"/>
<rect x="983.92" y="377.9" width="192.57" height="10.4" fill="#4c0707"/>
<rect x="1176.19" y="377.9" width="45.41" height="10.4" fill="#e8301f"/>
<rect x="169.6" y="388" width="11.61" height="10.4" fill="#f05e24"/>
<rect x="180.91" y="388" width="22.92" height="10.4" fill="#a81213"/>
<rect x="203.53" y="388" width="11.61" height="10.4" fill="#f05e24"/>
<rect x="214.84" y="388" width="11.61" height="10.4" fill="#cf1a1a"/>
<rect x="226.15" y="388" width="22.92" height="10.4" fill="#850d0f"/>
<rect x="248.77" y="388" width="11.61" height="10.4" fill="#a81213"/>
<rect x="260.08" y="388" width="11.61" height="10.4" fill="#850d0f"/>
<rect x="271.39" y="388" width="11.61" height="10.4" fill="#660a0b"/>
<rect x="282.7" y="388" width="22.92" height="10.4" fill="#a81213"/>
<rect x="305.32" y="388" width="181.26" height="10.4" fill="#4c0707"/>
<rect x="486.28" y="388" width="22.92" height="10.4" fill="#2f0505"/>
<rect x="508.9" y="388" width="22.92" height="10.4" fill="#4c0707"/>
<rect x="531.52" y="388" width="68.16" height="10.4" fill="#2f0505"/>
<rect x="599.38" y="388" width="45.54" height="10.4" fill="#4c0707"/>
<rect x="644.62" y="388" width="113.4" height="10.4" fill="#660a0b"/>
<rect x="757.72" y="388" width="22.92" height="10.4" fill="#a81213"/>
<rect x="780.34" y="388" width="34.23" height="10.4" fill="#850d0f"/>
<rect x="814.27" y="388" width="11.61" height="10.4" fill="#660a0b"/>
<rect x="825.58" y="388" width="22.92" height="10.4" fill="#850d0f"/>
<rect x="848.2" y="388" width="328.29" height="10.4" fill="#4c0707"/>
<rect x="1176.19" y="388" width="45.41" height="10.4" fill="#850d0f"/>
<rect x="169.6" y="398.1" width="11.61" height="10.4" fill="#a81213"/>
<rect x="180.91" y="398.1" width="22.92" height="10.4" fill="#cf1a1a"/>
<rect x="203.53" y="398.1" width="22.92" height="10.4" fill="#f48a29"/>
<rect x="226.15" y="398.1" width="11.61" height="10.4" fill="#a81213"/>
<rect x="237.46" y="398.1" width="22.92" height="10.4" fill="#850d0f"/>
<rect x="260.08" y="398.1" width="22.92" height="10.4" fill="#660a0b"/>
<rect x="282.7" y="398.1" width="11.61" height="10.4" fill="#a81213"/>
<rect x="294.01" y="398.1" width="11.61" height="10.4" fill="#f48a29"/>
<rect x="305.32" y="398.1" width="11.61" height="10.4" fill="#4c0707"/>
<rect x="316.63" y="398.1" width="136.02" height="10.4" fill="#2f0505"/>
<rect x="452.35" y="398.1" width="68.16" height="10.4" fill="#4c0707"/>
<rect x="520.21" y="398.1" width="11.61" height="10.4" fill="#2f0505"/>
<rect x="531.52" y="398.1" width="11.61" height="10.4" fill="#cf1a1a"/>
<rect x="542.83" y="398.1" width="102.09" height="10.4" fill="#2f0505"/>
<rect x="644.62" y="398.1" width="102.09" height="10.4" fill="#4c0707"/>
<rect x="746.41" y="398.1" width="102.09" height="10.4" fill="#660a0b"/>
<rect x="848.2" y="398.1" width="136.02" height="10.4" fill="#4c0707"/>
<rect x="983.92" y="398.1" width="192.57" height="10.4" fill="#2f0505"/>
<rect x="1176.19" y="398.1" width="45.41" height="10.4" fill="#a81213"/>
<rect x="169.6" y="408.2" width="22.92" height="10.4" fill="#cf1a1a"/>
<rect x="192.22" y="408.2" width="11.61" height="10.4" fill="#f05e24"/>
<rect x="203.53" y="408.2" width="11.61" height="10.4" fill="#850d0f"/>
<rect x="214.84" y="408.2" width="11.61" height="10.4" fill="#cf1a1a"/>
<rect x="226.15" y="408.2" width="22.92" height="10.4" fill="#660a0b"/>
<rect x="248.77" y="408.2" width="11.61" height="10.4" fill="#850d0f"/>
<rect x="260.08" y="408.2" width="22.92" height="10.4" fill="#4c0707"/>
<rect x="282.7" y="408.2" width="11.61" height="10.4" fill="#f48a29"/>
<rect x="294.01" y="408.2" width="11.61" height="10.4" fill="#f5b02f"/>
<rect x="305.32" y="408.2" width="68.16" height="10.4" fill="#4c0707"/>
<rect x="373.18" y="408.2" width="79.47" height="10.4" fill="#cf1a1a"/>
<rect x="452.35" y="408.2" width="56.85" height="10.4" fill="#a81213"/>
<rect x="508.9" y="408.2" width="237.81" height="10.4" fill="#4c0707"/>
<rect x="746.41" y="408.2" width="102.09" height="10.4" fill="#660a0b"/>
<rect x="848.2" y="408.2" width="136.02" height="10.4" fill="#4c0707"/>
<rect x="983.92" y="408.2" width="192.57" height="10.4" fill="#2f0505"/>
<rect x="1176.19" y="408.2" width="22.92" height="10.4" fill="#660a0b"/>
<rect x="1198.81" y="408.2" width="22.79" height="10.4" fill="#850d0f"/>
<rect x="169.6" y="418.3" width="11.61" height="10.4" fill="#4c0707"/>
<rect x="180.91" y="418.3" width="11.61" height="10.4" fill="#660a0b"/>
<rect x="192.22" y="418.3" width="11.61" height="10.4" fill="#850d0f"/>
<rect x="203.53" y="418.3" width="22.92" height="10.4" fill="#cf1a1a"/>
<rect x="226.15" y="418.3" width="11.61" height="10.4" fill="#e8301f"/>
<rect x="237.46" y="418.3" width="11.61" height="10.4" fill="#f05e24"/>
<rect x="248.77" y="418.3" width="11.61" height="10.4" fill="#cf1a1a"/>
<rect x="260.08" y="418.3" width="22.92" height="10.4" fill="#2f0505"/>
<rect x="282.7" y="418.3" width="11.61" height="10.4" fill="#660a0b"/>
<rect x="294.01" y="418.3" width="11.61" height="10.4" fill="#f3d862"/>
<rect x="305.32" y="418.3" width="11.61" height="10.4" fill="#660a0b"/>
<rect x="316.63" y="418.3" width="34.23" height="10.4" fill="#4c0707"/>
<rect x="350.56" y="418.3" width="362.22" height="10.4" fill="#2f0505"/>
<rect x="712.48" y="418.3" width="147.33" height="10.4" fill="#4c0707"/>
<rect x="859.51" y="418.3" width="316.98" height="10.4" fill="#2f0505"/>
<rect x="1176.19" y="418.3" width="45.41" height="10.4" fill="#850d0f"/>
<rect x="169.6" y="428.4" width="11.61" height="10.4" fill="#4c0707"/>
<rect x="180.91" y="428.4" width="11.61" height="10.4" fill="#cf1a1a"/>
<rect x="192.22" y="428.4" width="11.61" height="10.4" fill="#f48a29"/>
<rect x="203.53" y="428.4" width="11.61" height="10.4" fill="#e8301f"/>
<rect x="214.84" y="428.4" width="11.61" height="10.4" fill="#4c0707"/>
<rect x="226.15" y="428.4" width="11.61" height="10.4" fill="#850d0f"/>
<rect x="237.46" y="428.4" width="22.92" height="10.4" fill="#e8301f"/>
<rect x="260.08" y="428.4" width="34.23" height="10.4" fill="#4c0707"/>
<rect x="294.01" y="428.4" width="11.61" height="10.4" fill="#cf1a1a"/>
<rect x="305.32" y="428.4" width="11.61" height="10.4" fill="#660a0b"/>
<rect x="316.63" y="428.4" width="11.61" height="10.4" fill="#4c0707"/>
<rect x="327.94" y="428.4" width="113.4" height="10.4" fill="#a81213"/>
<rect x="441.04" y="428.4" width="11.61" height="10.4" fill="#850d0f"/>
<rect x="452.35" y="428.4" width="11.61" height="10.4" fill="#660a0b"/>
<rect x="463.66" y="428.4" width="249.12" height="10.4" fill="#4c0707"/>
<rect x="712.48" y="428.4" width="271.74" height="10.4" fill="#660a0b"/>
<rect x="983.92" y="428.4" width="45.54" height="10.4" fill="#4c0707"/>
<rect x="1029.16" y="428.4" width="68.16" height="10.4" fill="#660a0b"/>
<rect x="1097.02" y="428.4" width="79.47" height="10.4" fill="#2f0505"/>
<rect x="1176.19" y="428.4" width="45.41" height="10.4" fill="#850d0f"/>
<rect x="169.6" y="438.5" width="22.92" height="10.4" fill="#a81213"/>
<rect x="192.22" y="438.5" width="11.61" height="10.4" fill="#e8301f"/>
<rect x="203.53" y="438.5" width="11.61" height="10.4" fill="#cf1a1a"/>
<rect x="214.84" y="438.5" width="11.61" height="10.4" fill="#a81213"/>
<rect x="226.15" y="438.5" width="11.61" height="10.4" fill="#e8301f"/>
<rect x="237.46" y="438.5" width="22.92" height="10.4" fill="#cf1a1a"/>
<rect x="260.08" y="438.5" width="11.61" height="10.4" fill="#a81213"/>
<rect x="271.39" y="438.5" width="11.61" height="10.4" fill="#2f0505"/>
<rect x="282.7" y="438.5" width="169.95" height="10.4" fill="#660a0b"/>
<rect x="452.35" y="438.5" width="531.87" height="10.4" fill="#4c0707"/>
<rect x="983.92" y="438.5" width="192.57" height="10.4" fill="#2f0505"/>
<rect x="1176.19" y="438.5" width="45.41" height="10.4" fill="#4c0707"/>
<rect x="169.6" y="448.6" width="22.92" height="10.4" fill="#660a0b"/>
<rect x="192.22" y="448.6" width="56.85" height="10.4" fill="#850d0f"/>
<rect x="248.77" y="448.6" width="11.61" height="10.4" fill="#a81213"/>
<rect x="260.08" y="448.6" width="11.61" height="10.4" fill="#660a0b"/>
<rect x="271.39" y="448.6" width="56.85" height="10.4" fill="#4c0707"/>
<rect x="327.94" y="448.6" width="113.4" height="10.4" fill="#2f0505"/>
<rect x="441.04" y="448.6" width="11.61" height="10.4" fill="#1a0404"/>
<rect x="452.35" y="448.6" width="396.15" height="10.4" fill="#2f0505"/>
<rect x="848.2" y="448.6" width="45.54" height="10.4" fill="#1a0404"/>
<rect x="893.44" y="448.6" width="113.4" height="10.4" fill="#2f0505"/>
<rect x="1006.54" y="448.6" width="169.95" height="10.4" fill="#1a0404"/>
<rect x="1176.19" y="448.6" width="45.41" height="10.4" fill="#4c0707"/>
<rect x="169.6" y="458.7" width="90.78" height="10.4" fill="#660a0b"/>
<rect x="260.08" y="458.7" width="11.61" height="10.4" fill="#4c0707"/>
<rect x="271.39" y="458.7" width="11.61" height="10.4" fill="#f5b02f"/>
<rect x="282.7" y="458.7" width="158.64" height="10.4" fill="#4c0707"/>
<rect x="441.04" y="458.7" width="68.16" height="10.4" fill="#2f0505"/>
<rect x="508.9" y="458.7" width="11.61" height="10.4" fill="#4c0707"/>
<rect x="520.21" y="458.7" width="305.67" height="10.4" fill="#2f0505"/>
<rect x="825.58" y="458.7" width="22.92" height="10.4" fill="#4c0707"/>
<rect x="848.2" y="458.7" width="45.54" height="10.4" fill="#1a0404"/>
<rect x="893.44" y="458.7" width="283.05" height="10.4" fill="#2f0505"/>
<rect x="1176.19" y="458.7" width="45.41" height="10.4" fill="#4c0707"/>
<rect x="169.6" y="468.8" width="34.23" height="10.4" fill="#660a0b"/>
<rect x="203.53" y="468.8" width="56.85" height="10.4" fill="#4c0707"/>
<rect x="260.08" y="468.8" width="22.92" height="10.4" fill="#a81213"/>
<rect x="282.7" y="468.8" width="158.64" height="10.4" fill="#4c0707"/>
<rect x="441.04" y="468.8" width="271.74" height="10.4" fill="#2f0505"/>
<rect x="712.48" y="468.8" width="90.78" height="10.4" fill="#4c0707"/>
<rect x="802.96" y="468.8" width="45.54" height="10.4" fill="#2f0505"/>
<rect x="848.2" y="468.8" width="45.54" height="10.4" fill="#1a0404"/>
<rect x="893.44" y="468.8" width="90.78" height="10.4" fill="#2f0505"/>
<rect x="983.92" y="468.8" width="45.54" height="10.4" fill="#4c0707"/>
<rect x="1029.16" y="468.8" width="147.33" height="10.4" fill="#2f0505"/>
<rect x="1176.19" y="468.8" width="45.41" height="10.4" fill="#4c0707"/>
<rect x="169.6" y="478.9" width="90.78" height="10.4" fill="#660a0b"/>
<rect x="260.08" y="478.9" width="11.61" height="10.4" fill="#a81213"/>
<rect x="271.39" y="478.9" width="11.61" height="10.4" fill="#cf1a1a"/>
<rect x="282.7" y="478.9" width="22.92" height="10.4" fill="#660a0b"/>
<rect x="305.32" y="478.9" width="22.92" height="10.4" fill="#850d0f"/>
<rect x="327.94" y="478.9" width="192.57" height="10.4" fill="#660a0b"/>
<rect x="520.21" y="478.9" width="11.61" height="10.4" fill="#850d0f"/>
<rect x="531.52" y="478.9" width="441.39" height="10.4" fill="#4c0707"/>
<rect x="972.61" y="478.9" width="56.85" height="10.4" fill="#660a0b"/>
<rect x="1029.16" y="478.9" width="158.64" height="10.4" fill="#4c0707"/>
<rect x="1187.5" y="478.9" width="11.61" height="10.4" fill="#850d0f"/>
<rect x="1198.81" y="478.9" width="22.79" height="10.4" fill="#4c0707"/>
<rect x="169.6" y="489" width="102.09" height="10.4" fill="#2f0505"/>
<rect x="271.39" y="489" width="11.61" height="10.4" fill="#4c0707"/>
<rect x="282.7" y="489" width="11.61" height="10.4" fill="#850d0f"/>
<rect x="294.01" y="489" width="147.33" height="10.4" fill="#4c0707"/>
<rect x="441.04" y="489" width="543.18" height="10.4" fill="#2f0505"/>
<rect x="983.92" y="489" width="237.68" height="10.4" fill="#1a0404"/>
<rect x="169.6" y="499.1" width="90.78" height="10.4" fill="#4c0707"/>
<rect x="260.08" y="499.1" width="11.61" height="10.4" fill="#cf1a1a"/>
<rect x="271.39" y="499.1" width="11.61" height="10.4" fill="#850d0f"/>
<rect x="282.7" y="499.1" width="79.47" height="10.4" fill="#660a0b"/>
<rect x="361.87" y="499.1" width="79.47" height="10.4" fill="#4c0707"/>
<rect x="441.04" y="499.1" width="780.56" height="10.4" fill="#2f0505"/>
<rect x="169.6" y="509.2" width="90.78" height="10.4" fill="#2f0505"/>
<rect x="260.08" y="509.2" width="11.61" height="10.4" fill="#4c0707"/>
<rect x="271.39" y="509.2" width="11.61" height="10.4" fill="#660a0b"/>
<rect x="282.7" y="509.2" width="158.64" height="10.4" fill="#4c0707"/>
<rect x="441.04" y="509.2" width="780.56" height="10.4" fill="#2f0505"/>
<rect x="169.6" y="519.3" width="90.78" height="10.4" fill="#2f0505"/>
<rect x="260.08" y="519.3" width="11.61" height="10.4" fill="#4c0707"/>
<rect x="271.39" y="519.3" width="11.61" height="10.4" fill="#660a0b"/>
<rect x="282.7" y="519.3" width="215.19" height="10.4" fill="#2f0505"/>
<rect x="497.59" y="519.3" width="22.92" height="10.4" fill="#4c0707"/>
<rect x="520.21" y="519.3" width="701.39" height="10.4" fill="#2f0505"/>
<rect x="169.6" y="529.4" width="1052" height="10.4" fill="#1a0404"/>
<rect x="169.6" y="539.5" width="56.85" height="9.7" fill="#660a0b"/>
<rect x="226.15" y="539.5" width="45.54" height="9.7" fill="#4c0707"/>
<rect x="271.39" y="539.5" width="11.61" height="9.7" fill="#660a0b"/>
<rect x="282.7" y="539.5" width="158.64" height="9.7" fill="#4c0707"/>
<rect x="441.04" y="539.5" width="780.56" height="9.7" fill="#2f0505"/>
<text x="178.4" y="417" textLength="248" lengthAdjust="spacingAndGlyphs" style="font:bold 16.5px 'Liberation Sans',Arial,sans-serif;fill:#fff;fill-opacity:0.04;text-anchor:middle">MATERIAL INDICATORS</text>
<text x="517.7" y="417" textLength="248" lengthAdjust="spacingAndGlyphs" style="font:bold 16.5px 'Liberation Sans',Arial,sans-serif;fill:#fff;fill-opacity:0.04;text-anchor:middle">MATERIAL INDICATORS</text>
<text x="856.5" y="417" textLength="248" lengthAdjust="spacingAndGlyphs" style="font:bold 16.5px 'Liberation Sans',Arial,sans-serif;fill:#fff;fill-opacity:0.04;text-anchor:middle">MATERIAL INDICATORS</text>
<text x="1195.3" y="417" textLength="248" lengthAdjust="spacingAndGlyphs" style="font:bold 16.5px 'Liberation Sans',Arial,sans-serif;fill:#fff;fill-opacity:0.04;text-anchor:middle">MATERIAL INDICATORS</text>
</g>
<path d="M164.5 211.5V551.5H1221.5V211.5H164.5" fill="none" stroke="#4f4f4f" stroke-width="1"/>
<path d="M164.5 239.6h4.5 M164.5 280.87h4.5 M164.5 322.14h4.5 M164.5 363.42h4.5 M164.5 404.69h4.5 M164.5 445.96h4.5 M164.5 487.23h4.5 M164.5 528.5h4.5" stroke="#6a6a6a" stroke-width="1"/>
<path d="M1221.5 211.5V551.5" stroke="#8a8a8a" stroke-width="1"/>
<path d="M1221.5 214.84h4 M1221.5 223.09h4 M1221.5 231.35h4 M1221.5 239.6h6 M1221.5 247.85h4 M1221.5 256.11h4 M1221.5 264.36h4 M1221.5 272.62h4 M1221.5 280.87h6 M1221.5 289.13h4 M1221.5 297.38h4 M1221.5 305.64h4 M1221.5 313.89h4 M1221.5 322.14h6 M1221.5 330.4h4 M1221.5 338.65h4 M1221.5 346.91h4 M1221.5 355.16h4 M1221.5 363.42h6 M1221.5 371.67h4 M1221.5 379.92h4 M1221.5 388.18h4 M1221.5 396.43h4 M1221.5 404.69h6 M1221.5 412.94h4 M1221.5 421.2h4 M1221.5 429.45h4 M1221.5 437.71h4 M1221.5 445.96h6 M1221.5 454.21h4 M1221.5 462.47h4 M1221.5 470.72h4 M1221.5 478.98h4 M1221.5 487.23h6 M1221.5 495.49h4 M1221.5 503.74h4 M1221.5 512h4 M1221.5 520.25h4 M1221.5 528.5h6 M1221.5 536.76h4 M1221.5 545.01h4" stroke="#9a9a9a" stroke-width="1"/>
<text x="1243.5" y="243.8" class="tk">32.00 k</text>
<text x="1243.5" y="285.07" class="tk">30.00 k</text>
<text x="1243.5" y="326.34" class="tk">28.00 k</text>
<text x="1243.5" y="367.62" class="tk">26.00 k</text>
<text x="1243.5" y="408.89" class="tk">24.00 k</text>
<text x="1243.5" y="450.16" class="tk">22.00 k</text>
<text x="1243.5" y="491.43" class="tk">20.00 k</text>
<text x="1243.5" y="532.7" class="tk">18.00 k</text>
<g clip-path="url(#hclip)"><polyline points="165.4,392.6 169.7,385 172.9,392.6 176.1,396.9 178.3,405.5 181.5,398 183.7,405.5 186.9,402.3 189.1,407.6 190.1,417.3 193.4,424.9 197.7,421.6 203,416.3 208.4,417.3 212.7,416.3 214.9,419.5 217,409.8 220.3,413 224.6,416.3 226.7,427 227.8,437.8 233.2,437.8 239.7,436.7 246.1,435.6 251.5,437.8 255.8,444.2 260.1,448.5 263.3,452.9 265.5,463.6 267.6,478.7 269.4,489.4 272,485.1 274.1,480.8 277.3,478.7 280.6,476.5 281.6,463.6 283.8,446.4 285.9,437.8 287,420.6 289.2,401.2 291.3,392.6 293.5,373.2 295.6,386.1 298.9,396.9 301,394.7 303.2,388.3 306.4,375.3 308.5,353.8 310.7,343.1 312.9,332.3 316.1,338.8 318.2,343.1 320,336.9 322.9,325.3 325.8,319.5 327.2,325.3 330.1,322.4 334.5,318.1 338.1,313.7 340.3,335.4 342.4,319.5 345.3,315.2 349,319.5 351.1,331.1 356.2,332.5 359.8,323.9 363.4,323.9 366.3,326.8 368.5,339.8 372.1,344.1 374.3,341.2 376.5,325.3 379.4,313.7 382.3,309.4 384.4,321 387.3,321 390.2,312.3 393.9,310.8 398.2,313.7 401.1,316.6 404,326.8 406.9,319.5 409.8,318.1 412.7,313.7 416.3,310.8 419.2,318.1 422.8,321 427.2,323.9 431.5,321 435.9,323.9 440.9,322.4 443.8,315.2 446.7,305 448.2,292 450.3,279 453.2,276.1 456.9,280.4 460.5,280.4 463.4,273.2 467.7,263.8 470.6,271.7 473.5,271.7 476.4,274.6 482.2,274.6 486.5,286.2 489.4,292 491.6,273.9 495.2,273.9 497.4,292 501,303.6 505.4,312.3 508.3,319.5 510.4,326.8 512.2,335.2 515.8,325 518.7,329.4 521.6,327.9 524.5,330.8 528.8,333.7 531.7,333.7 534.6,316.3 536.8,309.1 538.2,287.4 539.7,312 541.1,299 544,291.7 547.7,293.2 552,296.1 554.9,294.6 557.8,296.8 561.4,288.8 562.9,296.1 565,312 567.9,316.3 570.1,320.7 572.3,310.6 575.2,309.1 578.1,307.7 581,297.5 583.9,303.3 586.8,299 590.4,290.3 593.3,294.6 596.2,303.3 599.8,303.3 602.7,307.7 605.6,322.1 608.5,329.4 612.8,328.7 617.2,328.7 621.5,332.3 624.4,339.5 627.3,351.1 629.5,356.9 631.7,346.8 636,345.3 640.3,342.4 644,336.6 646.9,332.3 650.5,339.5 654.8,341 657.7,343.9 659.9,335.2 662.1,333.7 665,351.1 667.1,343.9 670.8,343.9 675.1,339.5 678.7,342.4 682.3,345.3 686.7,342.4 690.3,335.2 693.2,336.6 696.1,345.3 699,356.9 702.6,356.9 705.2,354.6 710.3,348.5 715.5,347.7 719,339.9 721.5,329.6 723.3,321 725.8,326.1 728.4,322.7 731,321 733.6,327.9 736.2,339.9 739.6,339.9 742.2,343.4 745.6,343.4 748.2,339.1 751.7,338.2 756.8,339.1 761.2,339.1 764.6,343.4 766.3,353.7 768,367.5 771.5,367.5 774.4,338.2 776.7,346.8 779.2,353.7 784.4,351.1 788.7,351.1 793,370.9 795.6,367.5 799.9,364.9 805.1,364 810.2,360.6 812.8,364 817.1,362.3 820.6,376.1 822.7,386.4 825.8,372.6 828.3,370.9 830.9,355.4 834.4,350.2 837.8,352 841.3,352 844.7,353.7 848.1,346.8 850.7,343.4 852.5,329.6 854.2,315.8 855.9,303.7 857.6,293.4 858.5,279.6 861.1,276.2 864.5,279.6 867.1,277.9 869.7,256.4 872.3,264.1 875.7,267.6 879.2,263.3 883.5,273.6 886.9,277.9 890.3,268.4 893.8,265.8 897.2,274.5 899.4,278.4 902.3,266.9 905.2,268.3 908.8,261.1 911.7,269.8 916.1,268.3 920.4,269.8 924.8,265.4 928.4,256.7 932,262.5 934.9,264 937.8,268.3 940.7,265.4 942.9,264 945.8,279.9 947.9,275.6 952.3,274.1 956.6,275.6 961,275.6 963.9,277 968.2,272.7 972.5,268.3 976.9,265.4 979.8,271.2 982.7,269.8 984.9,255.3 987,250.9 989.2,256.7 991.4,272.7 995.7,274.1 1001.5,274.1 1005.9,277 1010.2,278.4 1013.8,282.8 1017.4,278.4 1021.1,281.3 1022.5,275.6 1024.7,284.2 1029,284.2 1032.7,282.8 1036.3,281.3 1040.6,278.4 1042.8,282.8 1045,292.9 1047.1,298.7 1050.8,295.8 1055.1,295.8 1058.7,292.9 1061.6,291.5 1063.8,295.8 1068.1,294.4 1072.5,292.9 1078.3,292.9 1083.9,293.6 1087.1,296.2 1090.3,302.6 1092.9,297.5 1095.5,287.8 1098.1,297.5 1102,297.5 1105.8,296.2 1111,298.1 1114.9,299.4 1118.8,298.8 1123.9,298.1 1126.5,299.4 1129.7,293.6 1132.3,284.6 1135.6,283.3 1138.8,284.6 1140.1,289.1 1143.3,291 1147.2,292.3 1152.4,292.9 1157.5,293.6 1162.7,292.9 1166.6,291.7 1170.4,292.9 1174.3,295.5 1178.2,298.1 1180.1,303.9 1182.7,309.1 1184.7,316.9 1185.3,328.5 1186,340.1 1186.6,350.5 1189.2,354.3 1190.5,362.1 1192.4,364.7 1195,362.1 1197.6,360.1 1201.5,358.8 1204.7,360.8 1207.9,360.8 1211.8,362.1" fill="none" stroke="#2f7cc0" stroke-width="3" stroke-linejoin="round" stroke-linecap="round"/></g>
<g stroke="#27d8e6" stroke-width="2.4" fill="none">
<path d="M258 492.9H1221"/>
<path d="M812.8 389.6H1221"/>
<path d="M628.8 418V388"/>
<path d="M661.5 418V388"/>
<path d="M701.2 418V388"/>
<path d="M1080.9 340.3C1120 338 1160 350 1190 372"/>
<path d="M1142.2 521.8C1170 505 1190 470 1199 428"/>
</g><g fill="#27d8e6">
<path d="M628.8 380.5l-4.8 9.2h9.6z"/>
<path d="M661.5 380.5l-4.8 9.2h9.6z"/>
<path d="M701.2 380.5l-4.8 9.2h9.6z"/>
<path d="M1196.5 377.5l-12.5-4.2l6.5-8.2z"/>
<path d="M1201 419.5l-6.2 10.6l9.6 0.8z"/>
</g>
<g class="an">
<text x="668.5" y="437">$71M+ Buy Walls</text>
<text x="668" y="509.2">2nd Lower Low</text>
<text x="1017" y="405.2">Lower Low</text>
<text x="1016.4" y="340.9">$37M Buy Wall</text>
<text x="1016.5" y="358.5" xml:space="preserve">Defending  $25k</text>
<text x="1052.5" y="525.3">Bid Liquidity Moved Up</text>
</g>
<rect x="130" y="221" width="24.5" height="320.5" fill="url(#cb)"/>
<text x="104" y="240.8" class="cbt">70.00 M</text>
<text x="104" y="284.6" class="cbt">60.00 M</text>
<text x="104" y="328.4" class="cbt">50.00 M</text>
<text x="104" y="372.2" class="cbt">40.00 M</text>
<text x="104" y="416" class="cbt">30.00 M</text>
<text x="104" y="459.8" class="cbt">20.00 M</text>
<text x="104" y="503.6" class="cbt">10.00 M</text>
<text transform="translate(35.2,495.3) rotate(-90)" class="ttl" style="font-size:13.5px" text-anchor="middle">Volume (USDT)</text>
<text transform="translate(1298.6,381.6) rotate(90)" class="ttl" text-anchor="middle">Price (USDT)</text>
<rect x="164.5" y="561.5" width="1057" height="161" fill="#181818"/>
<path d="M164.5 568H1221.5 M164.5 597.5H1221.5 M164.5 627H1221.5 M164.5 656.5H1221.5 M164.5 686H1221.5 M164.5 715.4H1221.5 M215.3 561.5V722 M393.2 561.5V722 M564.3 561.5V722 M741.4 561.5V722 M912.3 561.5V722 M1090.4 561.5V722" stroke="#3a3a3a" stroke-width="1"/>
<path d="M164.5 722V561.5H1221.5" fill="none" stroke="#4f4f4f" stroke-width="1"/>
<path d="M164.5 722.3H1221.5V561.5" fill="none" stroke="#8a8a8a" stroke-width="1"/>
<path d="M215.3 722V728 M393.2 722V728 M564.3 722V728 M741.4 722V728 M912.3 722V728 M1090.4 722V728" stroke="#9a9a9a" stroke-width="1"/>
<text x="215.3" y="745.5" class="xt">3/2023</text>
<text x="393.2" y="745.5" class="xt">4/2023</text>
<text x="564.3" y="745.5" class="xt">5/2023</text>
<text x="741.4" y="745.5" class="xt">6/2023</text>
<text x="912.3" y="745.5" class="xt">7/2023</text>
<text x="1090.4" y="745.5" class="xt">8/2023</text>
<text x="693" y="778.5" class="ttl" text-anchor="middle">Date (UTC)</text>
<path d="M1221.5 562.1h4 M1221.5 568h6 M1221.5 573.9h4 M1221.5 579.79h4 M1221.5 585.69h4 M1221.5 591.58h4 M1221.5 597.48h6 M1221.5 603.38h4 M1221.5 609.27h4 M1221.5 615.17h4 M1221.5 621.06h4 M1221.5 626.96h6 M1221.5 632.86h4 M1221.5 638.75h4 M1221.5 644.65h4 M1221.5 650.54h4 M1221.5 656.44h6 M1221.5 662.34h4 M1221.5 668.23h4 M1221.5 674.13h4 M1221.5 680.02h4 M1221.5 685.92h6 M1221.5 691.82h4 M1221.5 697.71h4 M1221.5 703.61h4 M1221.5 709.5h4 M1221.5 715.4h6 M1221.5 721.3h4" stroke="#9a9a9a" stroke-width="1"/>
<text x="1243.7" y="572.3" class="tk">1.00</text>
<text x="1243.7" y="601.78" class="tk">800.00 m</text>
<text x="1243.7" y="631.26" class="tk">600.00 m</text>
<text x="1243.7" y="660.74" class="tk">400.00 m</text>
<text x="1243.7" y="690.22" class="tk">200.00 m</text>
<text x="1243.7" y="719.7" class="tk">0.00</text>
<g clip-path="url(#tclip)"><text transform="translate(1310.2,642) rotate(90)" class="ttl" text-anchor="middle">Normalized CVD (arb. u.)</text></g>
<g clip-path="url(#cclip)"><path d="M163.6 715.3L170.6 703.6V689.5Q170.6 688.5 171.7 688.5H185.1Q186.2 688.5 186.2 689.5V703.6L192.7 715.3 M168 715.3L174.2 704.1V692.1H182.6V704.1L188.7 715.3 M502.9 715.3L509.9 703.6V689.5Q509.9 688.5 511 688.5H524.4Q525.5 688.5 525.5 689.5V703.6L532 715.3 M507.3 715.3L513.5 704.1V692.1H521.9V704.1L528 715.3 M841.7 715.3L848.7 703.6V689.5Q848.7 688.5 849.8 688.5H863.2Q864.3 688.5 864.3 689.5V703.6L870.8 715.3 M846.1 715.3L852.3 704.1V692.1H860.7V704.1L866.8 715.3 M1180.5 715.3L1187.5 703.6V689.5Q1187.5 688.5 1188.6 688.5H1202Q1203.1 688.5 1203.1 689.5V703.6L1209.6 715.3 M1184.9 715.3L1191.1 704.1V692.1H1199.5V704.1L1205.6 715.3" fill="none" stroke="#4b4b47" stroke-width="1.3"/></g>
<g clip-path="url(#cclip)" fill="none" stroke-width="2.8" stroke-linejoin="round">
<polyline points="164.4,568 177.8,570.7 195.5,574.2 213.3,576.9 231,578.7 248.8,579.5 261.2,580.4 266.6,585.8 275.5,588.4 284.3,584.9 291.4,579.5 296.8,583.1 305.6,581.3 314.5,576.9 323.4,575.1 330.5,573.3 337.6,574.2 346.5,573.3 351.8,576.9 360.7,576.9 371.3,577.8 385.5,576.9 399.7,576 410.4,576.9 421,577.8 431.7,578.7 442.4,577.8 449.5,574.2 463.7,572.4 474.3,572.4 485,573.3 492.1,570.7 499.2,572.4 506.3,576 513.4,577.8 520.5,576 527.6,577.8 534.7,576 541.8,574.2 545.3,572.8 550.7,573.9 561.3,573.3 568.4,576 579.1,577.8 589.7,578.7 600.4,581.3 611,584.9 621.7,587.5 632.4,589.3 643,590.2 653.7,592.9 664.3,592.9 675,594.6 685.6,597.3 696.3,599.1 707,601.7 715.8,603.5 722.9,601.7 730.1,604.4 737.1,605.3 747.8,608 758.4,609.7 765.5,611.5 772.6,613.3 783.3,616.8 793.9,620.4 804.6,623.1 815.3,625.7 825.9,628.4 836.6,630.2 847.2,631.9 854.3,631 859.7,629.3 865,631.9 872.1,634.6 882.8,636.4 893.4,638.2 904.1,639.9 914.7,641.7 923.6,644.4 927.1,645.3 934.2,650.6 941.3,653.3 948.4,658.6 955.5,661.2 966.2,663.9 976.8,666.6 987.5,669.2 998.2,671.9 1008.8,674.6 1019.5,677.2 1030.1,679 1040.8,682.6 1047.9,684.3 1058.5,687 1069.2,688.8 1079.9,689.7 1090.5,691.4 1101.2,694.1 1110.7,695 1121.3,696.8 1132,695.9 1142.6,696.8 1153.3,698.5 1163.9,700.3 1172.8,702.1 1178.2,704.8 1183.5,709.2 1187,711.9 1188.8,712.8" stroke="#2f7cc0"/>
<polyline points="164.4,568.9 170.7,569.8 177.8,575.1 186.6,581.3 195.5,586.6 204.4,590.2 213.3,592.9 222.2,594.6 231,595.5 239.9,595.5 248.8,594.6 259.5,593.7 264.8,596.4 270.1,601.7 277.2,604.4 284.3,603.5 289.7,605.3 295,607.1 300.3,602.6 305.6,600.9 314.5,601.7 323.4,603.5 330.5,605.3 337.6,608 341.2,613.3 344.7,617.7 351.8,616 358.9,619.5 367.8,622.2 373.1,623.1 382,618.6 389.1,620.4 399.7,620.4 410.4,621.3 421,623.1 431.7,623.9 442.4,624.8 453,624.8 463.7,625.7 470.8,627.5 477.9,629.3 485,630.2 492.1,631 499.2,631.9 506.3,631.9 513.4,630.2 520.5,628.4 527.6,629.3 534.7,631 540.1,631.9 547.1,629.3 554.2,627.5 564.9,628.4 575.5,631 586.2,631.9 600.4,631 611,633.7 619.9,636.4 628.8,634.6 639.5,635.5 650.1,638.2 660.8,636.4 671.4,638.2 682.1,639.9 692.8,641.7 703.4,643.5 714.1,645.3 724.7,647 740.7,648.8 751.3,650.6 762,652.4 772.6,654.1 783.3,655 790.4,657.7 797.5,660.4 808.2,660.4 818.8,661.2 829.5,662.1 840.1,663 850.8,663.9 861.4,664.8 872.1,665.7 882.8,666.6 893.4,667.5 904.1,667.5 914.7,668.3 923.6,670.1 930.7,671 941.3,672.8 952,678.1 962.6,679 973.3,680.8 983.9,682.6 994.6,684.3 1005.3,686.1 1015.9,687.9 1026.6,690.6 1037.2,692.3 1047.9,693.2 1058.5,695 1069.2,696.8 1079.9,698.5 1090.5,700.3 1101.2,702.1 1110.7,703.9 1121.3,706.5 1132,708.3 1142.6,710.1 1153.3,711.9 1163.9,713.6 1174.6,714.5 1181.7,714.5 1185.3,714.5 1188.8,713.6 1195.9,714.5 1206.6,715.4 1211.9,716.3" stroke="#fd8227"/>
<polyline points="164.4,610.6 170.7,608 177.8,605.3 184.9,601.7 195.5,600 204.4,598.2 211.5,599.1 216.8,601.7 222.2,602.6 227.5,601.7 231,599.1 239.9,598.2 248.8,597.3 257.7,597.3 264.8,598.2 270.1,594.6 277.2,591.1 284.3,584.9 291.4,579.5 298.5,580.4 305.6,583.1 312.8,578.7 319.9,576 327,571.5 332.3,568.9 337.6,569.8 342.9,568 348.3,571.5 353.6,575.1 358.9,576 367.8,577.8 373.1,578.7 378.4,576.9 385.5,577.8 394.4,576 403.3,577.8 410.4,581.3 421,581.3 431.7,582.2 442.4,580.4 453,579.5 463.7,578.7 474.3,582.2 485,583.1 492.1,584.9 499.2,586.6 506.3,587.5 511.6,584.9 517,583.1 524.1,584 529.4,584.9 536.5,582.2 543.6,579.5 547.1,576 557.8,576.9 568.4,577.8 580.9,577.8 589.7,580.4 600.4,582.2 611,584.9 621.7,587.5 632.4,589.3 643,590.2 653.7,592 664.3,592 675,593.7 685.6,593.7 692.8,595.5 699.9,598.2 707,600 714.1,602.6 721.2,602.6 728.3,605.3 737.1,608.8 747.8,611.5 758.4,613.3 765.5,616.8 772.6,620.4 779.7,622.2 788.6,626.6 797.5,631 804.6,634.6 811.7,636.4 818.8,638.2 829.5,639.9 840.1,641.7 850.8,642.6 857.9,642.6 865,645.3 872.1,648.8 882.8,651.5 893.4,654.1 904.1,655.9 914.7,657.7 927.1,660.4 934.2,663 941.3,666.6 948.4,671.9 955.5,675.5 966.2,679 976.8,682.6 987.5,682.6 998.2,684.3 1008.8,686.1 1019.5,687.9 1030.1,687 1040.8,682.6 1051.4,680.8 1062.1,680.4 1072.8,680.8 1083.4,679.9 1090.5,679.9 1097.6,680.8 1104.7,682.6 1110.7,683.4 1121.3,685.2 1130.2,687.9 1135.5,685.2 1146.2,685.2 1156.8,687 1167.5,689.7 1176.4,691.4 1181.7,695 1185.3,700.3 1188.8,709.2 1192.4,714.5 1199.5,713.6 1206.6,714.5 1211.9,715.4" stroke="#2aa12f"/>
<polyline points="164.4,585.8 170.7,586.6 177.8,589.3 186.6,591.1 195.5,593.7 204.4,596.4 213.3,594.6 222.2,594.6 231,597.3 236.4,600.9 243.5,602.6 252.4,602.6 259.5,603.5 264.8,607.1 268.3,613.3 273.7,616.8 279,617.7 284.3,613.3 291.4,611.5 295,615.1 302.1,616 307.4,616.8 312.8,612.4 319.9,608.8 325.2,606.2 330.5,608 335.8,606.2 341.2,602.6 346.5,600 351.8,601.7 358.9,600 367.8,598.2 376.6,597.3 385.5,596.4 394.4,597.3 403.3,599.1 406.8,595.5 412.2,593.7 421,593.7 431.7,593.7 440.6,592.9 445.9,590.2 453,586.6 460.1,584 467.2,581.3 474.3,577.8 481.4,576.9 488.5,576 492.1,569.8 495.6,568 499.2,569.8 504.5,574.2 509.9,577.8 513.4,580.4 520.5,578.7 527.6,581.3 532.9,582.2 538.3,579.5 547.1,579.5 554.2,582.2 563.1,583.1 572,585.8 582.6,589.3 593.3,592 603.9,593.7 611,593.7 621.7,595.5 632.4,596.4 643,596.4 653.7,598.2 664.3,600.9 675,605.3 685.6,608 692.8,609.7 699.9,610.6 707,611.5 714.1,613.3 721.2,609.7 728.3,610.6 737.1,613.3 747.8,615.1 758.4,614.2 767.3,616 774.4,611.5 779.7,614.2 786.8,616.8 793.9,617.7 801,616 808.2,617.7 818.8,619.5 827.7,620.4 833,624.8 843.7,626.6 854.3,627.5 861.4,625.7 868.5,630.2 875.6,631.9 884.5,633.7 891.6,631.9 900.5,634.6 911.2,635.5 921.8,638.2 927.1,639 934.2,645.3 939.5,647.9 948.4,649.7 959.1,651.5 969.7,653.3 980.4,655.9 991,659.5 1001.7,662.1 1012.4,665.7 1023,670.1 1033.7,674.6 1044.3,678.1 1055,684.3 1065.6,689.7 1076.3,693.2 1087,695 1097.6,697.7 1110.7,698.5 1121.3,700.3 1132,699.4 1142.6,702.1 1153.3,704.8 1163.9,705.6 1171,704.8 1176.4,707.4 1181.7,711.9 1185.3,713.6 1188.8,712.8 1194.1,710.1 1201.2,709.2 1206.6,711 1211.9,712.8" stroke="#da2d2d"/>
<polyline points="164.4,577.8 167.1,571.5 172.4,570.7 179.5,574.2 186.6,577.8 195.5,581.3 204.4,582.2 211.5,581.3 216.8,582.2 223.9,585.8 229.3,590.2 232.8,593.7 239.9,592 248.8,592 254.1,593.7 259.5,591.1 264.8,592.9 266.6,600.9 270.1,609.7 277.2,612.4 282.6,609.7 286.1,606.2 291.4,595.5 295,599.1 300.3,592.9 303.9,595.5 307.4,586.6 311.9,576.9 316.3,579.5 321.6,583.1 328.7,581.3 335.8,580.4 341.2,579.5 346.5,584 351.8,588.4 355.3,590.2 362.4,585.8 367.8,592 372.2,599.1 376.6,594.6 382,589.3 387.3,591.1 392.6,588.4 399.7,590.2 406.8,592.9 413.9,592 421,595.5 428.2,601.7 435.3,602.6 440.6,604.4 445.9,599.1 451.2,593.7 456.6,596.4 461.9,598.2 467.2,597.3 474.3,598.2 481.4,600 486.8,604.4 492.1,608.8 497.4,609.7 502.8,613.3 508.1,616.8 511.6,621.3 517,621.3 522.3,618.6 527.6,621.3 531.2,623.1 534.7,615.1 540.1,611.5 545.3,608.8 550.7,611.5 557.8,611.5 562.2,609.7 566.6,614.2 572,616 579.1,611.5 584.4,608 590.6,601.7 595.1,606.2 600.4,608 605.7,611.5 611,616.8 618.2,619.5 625.3,620.4 630.6,625.7 637.7,626.6 644.8,623.9 650.1,624.8 657.2,627.5 662.6,623.1 669.7,623.1 676.8,622.2 682.1,623.9 687.4,624.8 691,621.3 696.3,622.2 703.4,623.1 710.5,621.3 715.8,622.2 719.4,614.2 722.9,613.3 728.3,616 733.6,614.2 735.3,614.2 738.9,620.4 747.8,622.2 756.6,621.3 763.7,621.3 769.1,627.5 772.6,629.3 776.2,624.8 779.7,629.3 786.8,629.3 793.9,632.8 801,635.5 808.2,639 817,639.9 820.6,640.8 824.1,647.9 827.7,650.6 833,649.7 840.1,649.7 847.2,647 852.6,641.7 856.1,629.3 859.7,621.3 865,622.2 870.3,623.9 877.4,626.6 884.5,625.7 889.9,627.5 897,628.4 904.1,629.3 909.4,627.5 912.9,628.4 918.3,631.9 923.6,636.4 925.3,647 928.9,645.3 932.4,655.9 937.8,663 943.1,663 946.6,668.3 952,670.1 959.1,671 966.2,675.5 973.3,673.7 980.4,676.3 983.9,666.6 991,668.3 998.2,670.1 1005.3,673.7 1010.6,680.8 1015.9,684.3 1021.2,682.6 1026.6,686.1 1031.9,684.3 1037.2,689.7 1044.3,695 1051.4,702.1 1058.5,707.4 1065.6,710.1 1071,709.2 1074.5,703 1081.6,702.1 1087,701.2 1092.3,705.6 1097.6,712.8 1104.7,709.2 1105.3,709.2 1110.7,713.6 1114.2,715.4 1119.5,711 1124.9,708.3 1128.4,700.3 1132,691.4 1137.3,687 1142.6,683.4 1149.7,681.7 1155.1,677.2 1160.4,675.5 1165.7,672.8 1171,674.6 1174.6,677.2 1179.9,684.3 1183.5,691.4 1186.1,695.9 1188.8,691.4 1194.1,690.6 1197.7,687 1201.2,686.1 1206.6,689.7 1211.9,694.1" stroke="#9b66c4"/>
<polyline points="164.4,705.6 167.1,693.2 170.7,689.7 174.2,686.1 176,679 181.3,677.2 184.9,684.3 187.5,673.7 189.3,687.9 192,689.7 195.5,697.7 202.6,697.7 208,698.5 212.4,708.3 215.1,702.1 222.2,702.1 224.8,689.7 229.3,693.2 232.8,695 236.4,698.5 241.7,700.3 245.3,707.4 252.4,707.4 255.9,692.3 261.2,695.9 266.6,696.8 268.3,708.3 271.9,695 275.5,691.4 280.8,695 286.1,689.7 289.7,677.2 293.2,671.9 296.8,677.2 300.3,691.4 302.1,693.2 305.6,698.5 309.2,696.8 311,677.2 312.8,695 316.3,707.4 319.9,696.8 323.4,677.2 327,679 330.5,687.9 334.1,698.5 336.7,715.4 339.4,707.4 344.7,703.9 348.3,709.2 351.8,700.3 357.1,700.3 362.4,695 366,696.8 369.5,706.5 373.1,707.4 376.6,703.9 380.2,703.9 383.7,695 385.5,684.3 389.1,682.6 392.6,682.6 396.2,678.1 399.7,679 403.3,683.4 408.6,684.3 411.3,682.6 413.1,670.1 416.6,664.8 419.3,659.5 426.4,659.5 429,663.9 435.3,664.8 440.6,664.8 443.3,659.5 445.9,664.8 447.7,669.2 449.5,648.8 450.4,631 453,630.2 456.6,634.6 463.7,634.6 465.5,627.5 467.2,608.8 469.9,611.5 472.6,620.4 476.1,618.6 477.9,615.1 483.2,610.6 485,613.3 486.8,631 488.5,634.6 491.2,616.8 493.9,604.4 496.5,607.1 499.2,623.9 501,636.4 504.5,638.2 506.3,643.5 509,655.9 511.6,662.1 517,663 522.3,662.1 525,655.9 527.6,663 531.2,664.8 532.9,658.6 536.5,657.7 540.1,645.3 543.6,641.7 547.1,642.6 548.9,635.5 559.5,635.5 562.2,640.8 566.6,640.8 568.4,654.1 575.5,654.1 587.1,654.1 589.7,647 593.3,651.5 602.2,652.4 604.8,659.5 606.6,669.2 612.8,669.2 615.5,673.7 618.2,669.2 627,669.2 629.7,674.6 643,674.6 644.8,663 653.7,663 657.2,667.5 666.1,667.5 668.8,673.7 682.1,673.7 684.8,667.5 699.9,667.5 701.6,671.9 707,671.9 708.7,684.3 717.6,684.3 781.5,684.3 783.3,679 790.4,679 793.1,685.2 818.8,685.2 820.6,691.4 825.9,691.4 829.5,695.9 832.1,692.3 845.5,692.3 848.1,687 857.9,687 858.8,673.7 861.4,676.3 873.9,677.2 875.6,681.7 889.9,681.7 891.6,678.1 893.4,687 897,686.1 899.6,681.7 905.8,681.7 907.6,677.2 922.7,676.3 924.5,671.9 925.3,661.2 927.1,643.5 928.9,641.7 943.1,641.7 945.8,648.8 962.6,649.7 966.2,645.3 968,635.5 973.3,635.5 976.8,640.8 982.2,640.8 985.7,631.9 1010.6,631.9 1013.3,638.2 1015.9,632.8 1023.9,632.8 1025.7,638.2 1026.6,627.5 1031,616.8 1032.8,609.7 1034.6,614.2 1072.8,614.2 1074.5,607.1 1079.9,607.1 1081.6,601.7 1087.9,601.7 1090.5,612.4 1095,607.1 1096.7,595.5 1132,595.5 1134.6,568 1146.2,568 1148.8,580.4 1153.3,580.4 1155.1,584.9 1163.1,584.9 1164.8,592.9 1168.4,592.9 1170.2,588.4 1172.8,592 1175.5,604.4 1178.2,610.6 1188.8,610.6 1191.5,620.4 1194.1,616 1211.9,616" stroke="#8f5a50"/>
</g>
<path d="M174.4 826.2h15" stroke="#2f7cc0" stroke-width="2.6"/>
<text x="197.4" y="829.8" class="lg">All Orders</text>
<path d="M259.2 826.2h15" stroke="#fd8227" stroke-width="2.6"/>
<text x="282.2" y="829.8" class="lg">$100 to $1k</text>
<path d="M351.1 826.2h15" stroke="#2aa12f" stroke-width="2.6"/>
<text x="374.1" y="829.8" class="lg">$1k to $10k</text>
<path d="M174.4 886.4h15" stroke="#da2d2d" stroke-width="2.6"/>
<text x="197.4" y="890" class="lg">$10k to $100k</text>
<path d="M277.7 886.4h15" stroke="#9b66c4" stroke-width="2.6"/>
<text x="300.7" y="890" class="lg">$100k to $1M</text>
<path d="M379 886.4h15" stroke="#8f5a50" stroke-width="2.6"/>
<text x="402" y="890" class="lg">$1M to $10M</text>
<rect x="1340.9" y="207.1" width="6.2" height="6.2" rx="1.2" fill="#37b34a" transform="rotate(20 1344 210.2)"/>
<rect x="1344.86" y="208.74" width="6.2" height="6.2" rx="1.2" fill="#20b5c8" transform="rotate(65 1347.96 211.84)"/>
<rect x="1346.5" y="212.7" width="6.2" height="6.2" rx="1.2" fill="#2f8ee0" transform="rotate(110 1349.6 215.8)"/>
<rect x="1344.86" y="216.66" width="6.2" height="6.2" rx="1.2" fill="#7b4fd6" transform="rotate(155 1347.96 219.76)"/>
<rect x="1340.9" y="218.3" width="6.2" height="6.2" rx="1.2" fill="#c33cb5" transform="rotate(200 1344 221.4)"/>
<rect x="1336.94" y="216.66" width="6.2" height="6.2" rx="1.2" fill="#ee2b5f" transform="rotate(245 1340.04 219.76)"/>
<rect x="1335.3" y="212.7" width="6.2" height="6.2" rx="1.2" fill="#f36b2c" transform="rotate(290 1338.4 215.8)"/>
<rect x="1336.94" y="208.74" width="6.2" height="6.2" rx="1.2" fill="#f8b22a" transform="rotate(335 1340.04 211.84)"/>
<circle cx="1344" cy="215.8" r="4" fill="#202020"/>
<g fill="#9c9c9c"><path d="M1344 237l-4 4h2.6v3.4h-3.4v-2.6l-4 4l4 4v-2.6h3.4v3.4h-2.6l4 4l4-4h-2.6v-3.4h3.4v2.6l4-4l-4-4v2.6h-3.4v-3.4h2.6z"/></g>
<rect x="1328.8" y="260.6" width="2.2" height="30.5" fill="#4aa99a"/>
<rect x="1328.8" y="384" width="2.2" height="59.5" fill="#4aa99a"/>
<g fill="none" stroke="#9c9c9c" stroke-width="1.4"><path d="M1336 267.5h17v17h-17z" stroke-dasharray="2.2 1.6"/><circle cx="1347.4" cy="273" r="4.2"/><path d="M1344.4 276.2l-6 6.3" stroke-width="2"/></g>
<path d="M1339.2 291.6h9.7" stroke="#9c9c9c" stroke-width="1.2"/>
<path d="M1339.2 322.4h9.7" stroke="#9c9c9c" stroke-width="1.2"/>
<path d="M1339.2 383.4h9.7" stroke="#9c9c9c" stroke-width="1.2"/>
<g fill="none" stroke="#9c9c9c" stroke-width="1.5"><rect x="1335.6" y="301.5" width="6.4" height="11" rx="3.2"/><path d="M1337.2 307h3.2"/><circle cx="1348.4" cy="304.6" r="3.4"/><path d="M1346.8 307.6l-2.3 5"/></g>
<g fill="none" stroke="#9c9c9c" stroke-width="1.7"><path d="M1337.6 336a6.6 6.6 0 0 1 12.2-2.6"/><path d="M1350.4 339.5a6.6 6.6 0 0 1-12.2 2.6"/></g>
<g fill="#9c9c9c"><path d="M1351.5 330.6l-0.2 5.2l-4.6-2.2z"/><path d="M1336.5 344.8l0.2-5.2l4.6 2.2z"/></g>
<g fill="none" stroke="#9c9c9c" stroke-width="1.4"><rect x="1336" y="359.2" width="16" height="16.8"/><path d="M1339 359.2v5.8h10v-5.8"/></g><rect x="1345.5" y="360.5" width="1.6" height="3" fill="#9c9c9c"/>
<g fill="none" stroke="#9c9c9c" stroke-width="1.4"><path d="M1337.6 392.4h12.6v9.4h-3.8l-2.5 3.6l-2.5-3.6h-3.8z"/><path d="M1339.8 395.6h8.2M1339.8 398.4h8.2"/></g>
<g fill="none" stroke="#9c9c9c" stroke-width="1.5"><circle cx="1344" cy="429" r="6.8"/><path d="M1344 422.2v3.4M1344 432.4v3.4M1337.2 429h3.4M1347.4 429h3.4"/></g>
</svg>
</body></html>
